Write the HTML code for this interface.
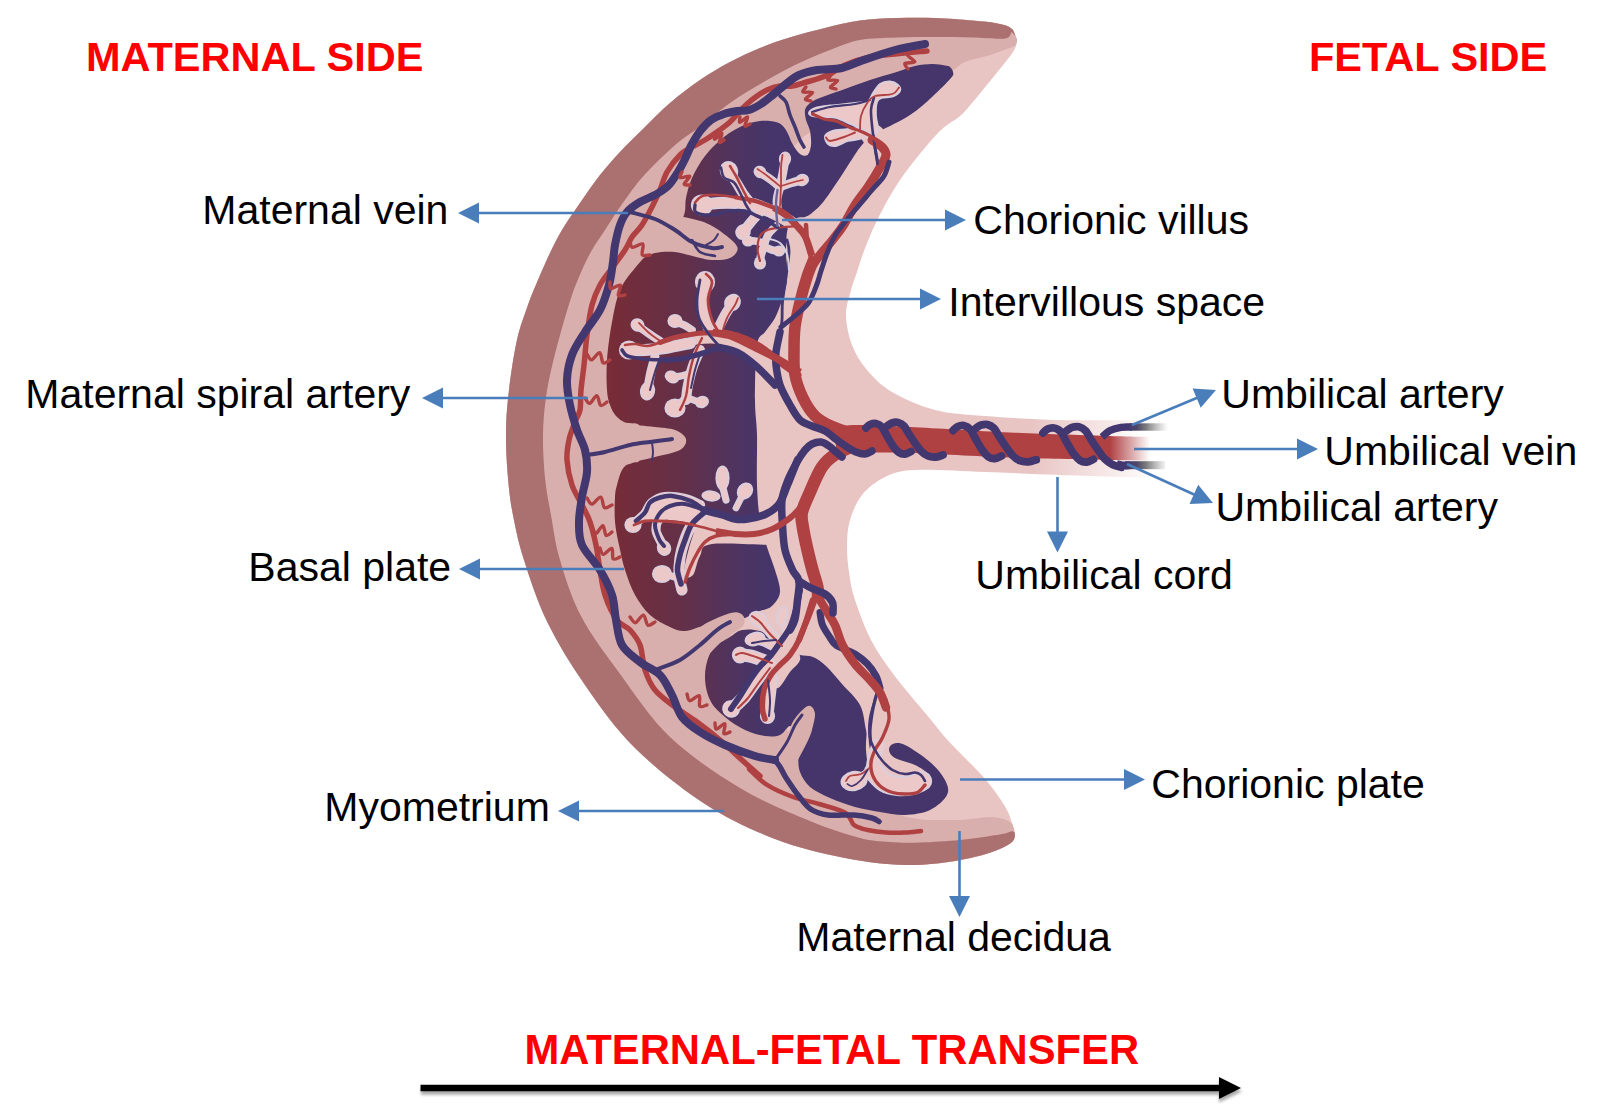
<!DOCTYPE html>
<html><head><meta charset="utf-8"><title>Placenta</title>
<style>
html,body{margin:0;padding:0;background:#fff;}
body{width:1600px;height:1118px;overflow:hidden;position:relative;font-family:"Liberation Sans",sans-serif;}
svg{position:absolute;left:0;top:0;}
text{font-family:"Liberation Sans",sans-serif;}
.lb{font-size:41px;fill:#000;}
.hd{font-size:41.5px;font-weight:bold;fill:#ff0000;}
</style></head><body>
<svg width="1600" height="1118" viewBox="0 0 1600 1118">
<defs>
<linearGradient id="gIV" gradientUnits="userSpaceOnUse" x1="612" y1="0" x2="772" y2="0">
<stop offset="0" stop-color="#772c37"/><stop offset="0.45" stop-color="#633049"/><stop offset="0.8" stop-color="#4d3462"/><stop offset="1" stop-color="#45356a"/>
</linearGradient>
<linearGradient id="gCord" gradientUnits="userSpaceOnUse" x1="1030" y1="0" x2="1156" y2="0">
<stop offset="0" stop-color="#fff" stop-opacity="0"/><stop offset="1" stop-color="#fff" stop-opacity="1"/>
</linearGradient>
<linearGradient id="gVein" gradientUnits="userSpaceOnUse" x1="1110" y1="0" x2="1150" y2="0">
<stop offset="0" stop-color="#fff" stop-opacity="0"/><stop offset="1" stop-color="#fff" stop-opacity="1"/>
</linearGradient>
<linearGradient id="gStub" gradientUnits="userSpaceOnUse" x1="1125" y1="0" x2="1168" y2="0">
<stop offset="0" stop-color="#43376f"/><stop offset="0.28" stop-color="#4f4868"/><stop offset="0.5" stop-color="#777" stop-opacity="0.95"/><stop offset="1" stop-color="#999" stop-opacity="0"/>
</linearGradient>
<filter id="sh" x="-5%" y="-200%" width="110%" height="500%"><feGaussianBlur stdDeviation="1.6"/></filter>
</defs>
<path d="M1017.0,42.0C1016.2,39.8 1015.2,32.1 1012.0,29.0C1008.8,25.9 1004.1,24.9 997.5,23.5C990.9,22.1 982.9,21.4 972.5,20.5C962.1,19.6 947.5,18.4 935.0,18.0C922.5,17.6 910.0,17.6 897.5,18.0C885.0,18.4 872.1,18.9 860.0,20.6C847.9,22.3 836.7,25.2 825.0,28.0C813.3,30.8 800.5,34.2 789.7,37.5C778.9,40.8 770.0,43.9 760.0,48.0C750.0,52.1 740.0,56.7 730.0,62.0C720.0,67.3 710.0,73.2 700.0,80.0C690.0,86.8 679.7,94.7 670.0,103.0C660.3,111.3 650.3,121.8 642.0,130.0C633.7,138.2 627.0,144.5 620.0,152.0C613.0,159.5 606.7,166.5 600.0,175.0C593.3,183.5 586.3,193.8 580.0,203.0C573.7,212.2 567.0,221.7 562.0,230.0C557.0,238.3 554.0,244.7 550.0,253.0C546.0,261.3 541.7,271.3 538.0,280.0C534.3,288.7 531.5,295.0 528.0,305.0C524.5,315.0 520.2,325.8 517.0,340.0C513.8,354.2 510.8,374.7 509.0,390.0C507.2,405.3 506.2,417.3 506.0,432.0C505.8,446.7 506.8,464.2 508.0,478.0C509.2,491.8 510.3,501.3 513.0,515.0C515.7,528.7 518.2,542.1 524.0,560.0C529.8,577.9 537.3,601.7 547.5,622.5C557.7,643.3 570.4,664.1 585.0,685.0C599.6,705.9 615.0,728.2 635.0,748.0C655.0,767.8 681.7,788.8 705.0,804.0C728.3,819.2 751.7,830.0 775.0,839.0C798.3,848.0 823.3,853.7 845.0,858.0C866.7,862.3 886.7,864.5 905.0,865.0C923.3,865.5 940.5,863.2 955.0,861.0C969.5,858.8 982.5,855.2 992.0,852.0C1001.5,848.8 1008.2,845.2 1012.0,842.0C1015.8,838.8 1014.5,834.5 1015.0,833.0C1013.8,829.5 1011.2,818.7 1008.0,812.0C1004.8,805.3 1000.2,799.0 996.0,793.0C991.8,787.0 987.5,781.7 982.5,776.0C977.5,770.3 971.8,765.0 966.0,759.0C960.2,753.0 953.7,746.9 947.5,740.0C941.3,733.1 935.2,725.0 929.0,717.5C922.8,710.0 916.3,702.8 910.0,695.0C903.7,687.2 897.5,680.2 891.0,671.0C884.5,661.8 877.0,651.8 871.0,640.0C865.0,628.2 858.7,611.3 855.0,600.0C851.3,588.7 850.3,581.2 849.0,572.0C847.7,562.8 846.8,553.7 847.0,545.0C847.2,536.3 847.5,528.3 850.0,520.0C852.5,511.7 856.2,502.2 862.0,495.0C867.8,487.8 876.2,481.2 885.0,477.0C893.8,472.8 898.3,470.8 915.0,470.0C931.7,469.2 960.8,471.2 985.0,472.0C1009.2,472.8 1032.5,474.0 1060.0,475.0C1087.5,476.0 1135.0,477.5 1150.0,478.0L1150,420C1135.0,420.0 1087.5,420.7 1060.0,420.0C1032.5,419.3 1005.8,417.7 985.0,416.0C964.2,414.3 950.5,414.0 935.0,410.0C919.5,406.0 903.3,398.7 892.0,392.0C880.7,385.3 873.7,377.8 867.0,370.0C860.3,362.2 855.5,354.2 852.0,345.0C848.5,335.8 846.2,324.2 846.0,315.0C845.8,305.8 849.2,297.2 851.0,290.0C852.8,282.8 855.1,277.8 857.0,272.0C858.9,266.2 859.9,262.0 862.5,255.0C865.1,248.0 868.8,238.3 872.5,230.0C876.2,221.7 880.4,213.3 885.0,205.0C889.6,196.7 894.3,188.3 900.0,180.0C905.7,171.7 912.2,163.3 919.0,155.0C925.8,146.7 934.2,136.5 941.0,130.0C947.8,123.5 954.8,120.6 960.0,116.0C965.2,111.4 966.7,109.3 972.5,102.5C978.3,95.7 988.2,83.4 995.0,75.0C1001.8,66.6 1009.3,57.5 1013.0,52.0C1016.7,46.5 1016.3,43.7 1017.0,42.0Z" fill="#e8c4c3"/>
<path d="M1017.0,42.0C1016.2,39.8 1015.2,32.1 1012.0,29.0C1008.8,25.9 1004.1,24.9 997.5,23.5C990.9,22.1 982.9,21.4 972.5,20.5C962.1,19.6 947.5,18.4 935.0,18.0C922.5,17.6 910.0,17.6 897.5,18.0C885.0,18.4 872.1,18.9 860.0,20.6C847.9,22.3 836.7,25.2 825.0,28.0C813.3,30.8 800.5,34.2 789.7,37.5C778.9,40.8 770.0,43.9 760.0,48.0C750.0,52.1 740.0,56.7 730.0,62.0C720.0,67.3 710.0,73.2 700.0,80.0C690.0,86.8 679.7,94.7 670.0,103.0C660.3,111.3 650.3,121.8 642.0,130.0C633.7,138.2 627.0,144.5 620.0,152.0C613.0,159.5 606.7,166.5 600.0,175.0C593.3,183.5 586.3,193.8 580.0,203.0C573.7,212.2 567.0,221.7 562.0,230.0C557.0,238.3 554.0,244.7 550.0,253.0C546.0,261.3 541.7,271.3 538.0,280.0C534.3,288.7 531.5,295.0 528.0,305.0C524.5,315.0 520.2,325.8 517.0,340.0C513.8,354.2 510.8,374.7 509.0,390.0C507.2,405.3 506.2,417.3 506.0,432.0C505.8,446.7 506.8,464.2 508.0,478.0C509.2,491.8 510.3,501.3 513.0,515.0C515.7,528.7 518.2,542.1 524.0,560.0C529.8,577.9 537.3,601.7 547.5,622.5C557.7,643.3 570.4,664.1 585.0,685.0C599.6,705.9 615.0,728.2 635.0,748.0C655.0,767.8 681.7,788.8 705.0,804.0C728.3,819.2 751.7,830.0 775.0,839.0C798.3,848.0 823.3,853.7 845.0,858.0C866.7,862.3 886.7,864.5 905.0,865.0C923.3,865.5 940.5,863.2 955.0,861.0C969.5,858.8 982.5,855.2 992.0,852.0C1001.5,848.8 1008.2,845.2 1012.0,842.0C1015.8,838.8 1014.5,834.5 1015.0,833.0C1014.2,831.2 1014.2,824.7 1010.0,822.0C1005.8,819.3 999.2,817.3 990.0,817.0C980.8,816.7 970.0,820.3 955.0,820.0C940.0,819.7 920.8,821.7 900.0,815.0C879.2,808.3 850.0,795.8 830.0,780.0C810.0,764.2 795.0,740.0 780.0,720.0C765.0,700.0 750.0,680.0 740.0,660.0C730.0,640.0 726.7,623.3 720.0,600.0C713.3,576.7 705.0,546.7 700.0,520.0C695.0,493.3 691.7,463.3 690.0,440.0C688.3,416.7 688.3,403.3 690.0,380.0C691.7,356.7 692.5,321.7 700.0,300.0C707.5,278.3 725.0,266.7 735.0,250.0C745.0,233.3 749.2,218.3 760.0,200.0C770.8,181.7 786.7,153.3 800.0,140.0C813.3,126.7 826.7,126.7 840.0,120.0C853.3,113.3 866.7,105.8 880.0,100.0C893.3,94.2 908.3,89.7 920.0,85.0C931.7,80.3 942.5,75.8 950.0,72.0C957.5,68.2 958.3,64.8 965.0,62.0C971.7,59.2 981.7,57.7 990.0,55.0C998.3,52.3 1010.8,47.5 1015.0,46.0Z" fill="#d9afad"/>
<path d="M1017.0,42.0C1016.2,39.8 1015.2,32.1 1012.0,29.0C1008.8,25.9 1004.1,24.9 997.5,23.5C990.9,22.1 982.9,21.4 972.5,20.5C962.1,19.6 947.5,18.4 935.0,18.0C922.5,17.6 910.0,17.6 897.5,18.0C885.0,18.4 872.1,18.9 860.0,20.6C847.9,22.3 836.7,25.2 825.0,28.0C813.3,30.8 800.5,34.2 789.7,37.5C778.9,40.8 770.0,43.9 760.0,48.0C750.0,52.1 740.0,56.7 730.0,62.0C720.0,67.3 710.0,73.2 700.0,80.0C690.0,86.8 679.7,94.7 670.0,103.0C660.3,111.3 650.3,121.8 642.0,130.0C633.7,138.2 627.0,144.5 620.0,152.0C613.0,159.5 606.7,166.5 600.0,175.0C593.3,183.5 586.3,193.8 580.0,203.0C573.7,212.2 567.0,221.7 562.0,230.0C557.0,238.3 554.0,244.7 550.0,253.0C546.0,261.3 541.7,271.3 538.0,280.0C534.3,288.7 531.5,295.0 528.0,305.0C524.5,315.0 520.2,325.8 517.0,340.0C513.8,354.2 510.8,374.7 509.0,390.0C507.2,405.3 506.2,417.3 506.0,432.0C505.8,446.7 506.8,464.2 508.0,478.0C509.2,491.8 510.3,501.3 513.0,515.0C515.7,528.7 518.2,542.1 524.0,560.0C529.8,577.9 537.3,601.7 547.5,622.5C557.7,643.3 570.4,664.1 585.0,685.0C599.6,705.9 615.0,728.2 635.0,748.0C655.0,767.8 681.7,788.8 705.0,804.0C728.3,819.2 751.7,830.0 775.0,839.0C798.3,848.0 823.3,853.7 845.0,858.0C866.7,862.3 886.7,864.5 905.0,865.0C923.3,865.5 940.5,863.2 955.0,861.0C969.5,858.8 982.5,855.2 992.0,852.0C1001.5,848.8 1008.2,845.2 1012.0,842.0C1015.8,838.8 1014.5,834.5 1015.0,833.0L1012,831C1010.8,831.4 1008.7,832.7 1005.0,833.5C1001.3,834.3 997.5,834.9 990.0,836.0C982.5,837.1 971.7,838.9 960.0,840.0C948.3,841.1 931.7,842.2 920.0,842.5C908.3,842.8 900.0,842.8 890.0,842.0C880.0,841.2 873.3,841.5 860.0,838.0C846.7,834.5 830.0,829.3 810.0,821.0C790.0,812.7 763.3,802.0 740.0,788.0C716.7,774.0 690.2,756.2 670.0,737.0C649.8,717.8 633.8,692.7 619.0,672.5C604.2,652.3 590.8,634.8 581.0,616.0C571.2,597.2 565.0,576.8 560.0,560.0C555.0,543.2 553.5,528.7 551.0,515.0C548.5,501.3 546.3,491.3 545.0,478.0C543.7,464.7 542.8,448.5 543.0,435.0C543.2,421.5 544.3,409.2 546.0,397.0C547.7,384.8 550.3,373.5 553.0,362.0C555.7,350.5 558.8,339.2 562.0,328.0C565.2,316.8 568.7,304.7 572.0,295.0C575.3,285.3 578.7,277.5 582.0,270.0C585.3,262.5 588.2,256.7 592.0,250.0C595.8,243.3 600.3,237.2 605.0,230.0C609.7,222.8 614.2,215.3 620.0,207.0C625.8,198.7 633.3,188.0 640.0,180.0C646.7,172.0 653.3,165.5 660.0,159.0C666.7,152.5 673.7,146.2 680.0,141.0C686.3,135.8 689.7,134.3 698.0,128.0C706.3,121.7 719.3,110.5 730.0,103.0C740.7,95.5 751.2,89.3 762.0,83.0C772.8,76.7 783.7,70.5 795.0,65.0C806.3,59.5 819.2,54.2 830.0,50.0C840.8,45.8 848.8,42.1 860.0,40.0C871.2,37.9 885.0,38.0 897.5,37.5C910.0,37.0 922.5,37.0 935.0,37.0C947.5,37.0 960.8,37.2 972.5,37.5C984.2,37.8 998.5,39.4 1005.0,38.5C1011.5,37.6 1010.4,33.1 1011.5,32.0Q1017,36 1017,42Z" fill="#ab7170"/>
<path d="M953.0,72.0C952.8,70.2 951.3,68.1 950.0,67.0C948.7,65.9 948.0,66.0 945.0,65.5C942.0,65.0 937.0,63.9 932.0,64.0C927.0,64.1 921.2,64.6 915.0,66.0C908.8,67.4 902.5,70.2 895.0,72.5C887.5,74.8 878.3,77.2 870.0,80.0C861.7,82.8 852.5,86.3 845.0,89.0C837.5,91.7 830.0,94.2 825.0,96.0C820.0,97.8 817.7,98.7 815.0,100.0C812.3,101.3 810.7,102.3 809.0,104.0C807.3,105.7 805.5,107.3 805.0,110.0C804.5,112.7 805.2,116.5 806.0,120.0C806.8,123.5 809.2,126.8 810.0,131.0C810.8,135.2 811.4,141.0 811.0,145.0C810.6,149.0 809.3,153.5 807.5,155.0C805.7,156.5 802.5,155.8 800.0,154.0C797.5,152.2 794.8,148.0 792.5,144.0C790.2,140.0 788.5,133.6 786.0,130.0C783.5,126.4 781.8,124.0 777.5,122.5C773.2,121.0 765.9,120.4 760.0,121.0C754.1,121.6 748.0,123.3 742.0,126.0C736.0,128.7 730.2,132.0 724.0,137.0C717.8,142.0 710.3,149.2 705.0,156.0C699.7,162.8 695.2,171.0 692.0,178.0C688.8,185.0 687.3,191.8 686.0,198.0C684.7,204.2 686.3,208.8 684.0,215.0C681.7,221.2 677.7,228.8 672.0,235.0C666.3,241.2 656.2,246.5 650.0,252.0C643.8,257.5 640.0,261.7 635.0,268.0C630.0,274.3 623.8,281.0 620.0,290.0C616.2,299.0 614.2,310.3 612.0,322.0C609.8,333.7 607.8,348.7 607.0,360.0C606.2,371.3 606.5,382.5 607.0,390.0C607.5,397.5 608.5,400.7 610.0,405.0C611.5,409.3 613.3,413.0 616.0,416.0C618.7,419.0 622.0,421.2 626.0,423.0C630.0,424.8 637.7,420.5 640.0,426.5C642.3,432.5 641.7,453.0 640.0,459.0C638.3,465.0 633.0,460.7 630.0,462.5C627.0,464.3 624.2,466.2 622.0,470.0C619.8,473.8 618.2,480.5 617.0,485.0C615.8,489.5 615.3,490.8 615.0,497.0C614.7,503.2 614.3,514.0 615.0,522.0C615.7,530.0 617.3,537.0 619.0,545.0C620.7,553.0 622.3,561.7 625.0,570.0C627.7,578.3 630.8,587.5 635.0,595.0C639.2,602.5 644.2,609.7 650.0,615.0C655.8,620.3 664.2,624.3 670.0,627.0C675.8,629.7 679.2,631.3 685.0,631.0C690.8,630.7 699.2,626.8 705.0,625.0C710.8,623.2 715.5,621.8 720.0,620.0C724.5,618.2 728.0,614.3 732.0,614.0C736.0,613.7 740.7,618.0 744.0,618.0C747.3,618.0 749.3,615.2 752.0,614.0C754.7,612.8 756.7,612.3 760.0,611.0C763.3,609.7 768.7,609.2 772.0,606.0C775.3,602.8 779.5,598.0 780.0,592.0C780.5,586.0 777.2,577.5 775.0,570.0C772.8,562.5 769.5,555.3 767.0,547.0C764.5,538.7 761.7,530.3 760.0,520.0C758.3,509.7 757.5,499.2 757.0,485.0C756.5,470.8 757.3,449.2 757.0,435.0C756.7,420.8 755.0,415.0 755.0,400.0C755.0,385.0 755.3,356.3 757.0,345.0C758.7,333.7 762.0,336.5 765.0,332.0C768.0,327.5 772.2,323.3 775.0,318.0C777.8,312.7 780.0,306.3 782.0,300.0C784.0,293.7 786.3,288.3 787.0,280.0C787.7,271.7 785.8,258.7 786.0,250.0C786.2,241.3 786.2,233.3 788.0,228.0C789.8,222.7 794.2,219.8 797.0,218.0C799.8,216.2 802.4,217.9 805.0,217.0C807.6,216.1 809.3,215.2 812.5,212.5C815.7,209.8 819.0,207.4 824.0,201.0C829.0,194.6 837.2,182.0 842.5,174.0C847.8,166.0 852.8,157.8 856.0,153.0C859.2,148.2 859.7,147.8 862.0,145.0C864.3,142.2 867.0,138.3 870.0,136.0C873.0,133.7 873.3,134.5 880.0,131.0C886.7,127.5 901.3,120.7 910.0,115.0C918.7,109.3 925.2,103.2 932.0,97.0C938.8,90.8 947.5,82.2 951.0,78.0C954.5,73.8 953.2,73.8 953.0,72.0Z" fill="url(#gIV)"/>
<path d="M742.0,630.0C737.0,631.0 735.0,633.7 730.0,637.0C725.0,640.3 716.2,643.7 712.0,650.0C707.8,656.3 705.3,666.7 705.0,675.0C704.7,683.3 706.7,693.0 710.0,700.0C713.3,707.0 719.2,712.0 725.0,717.0C730.8,722.0 738.3,726.8 745.0,730.0C751.7,733.2 759.2,735.2 765.0,736.0C770.8,736.8 775.8,736.7 780.0,735.0C784.2,733.3 787.2,726.0 790.0,726.0C792.8,726.0 795.7,730.2 797.0,735.0C798.3,739.8 797.5,748.8 798.0,755.0C798.5,761.2 798.0,766.7 800.0,772.0C802.0,777.3 805.0,782.7 810.0,787.0C815.0,791.3 822.5,794.7 830.0,798.0C837.5,801.3 846.7,804.7 855.0,807.0C863.3,809.3 871.7,810.7 880.0,812.0C888.3,813.3 896.7,815.3 905.0,815.0C913.3,814.7 923.0,813.3 930.0,810.0C937.0,806.7 944.5,800.0 947.0,795.0C949.5,790.0 947.8,785.5 945.0,780.0C942.2,774.5 936.7,767.8 930.0,762.0C923.3,756.2 911.2,748.0 905.0,745.0C898.8,742.0 895.7,743.2 893.0,744.0C890.3,744.8 888.7,747.7 889.0,750.0C889.3,752.3 890.7,755.5 895.0,758.0C899.3,760.5 909.5,762.2 915.0,765.0C920.5,767.8 926.3,770.8 928.0,775.0C929.7,779.2 929.7,787.0 925.0,790.0C920.3,793.0 907.5,793.0 900.0,793.0C892.5,793.0 884.7,793.0 880.0,790.0C875.3,787.0 873.7,781.7 872.0,775.0C870.3,768.3 871.0,757.5 870.0,750.0C869.0,742.5 867.7,737.5 866.0,730.0C864.3,722.5 864.0,712.7 860.0,705.0C856.0,697.3 847.7,690.5 842.0,684.0C836.3,677.5 830.8,670.5 826.0,666.0C821.2,661.5 817.3,658.8 813.0,657.0C808.7,655.2 804.2,656.3 800.0,655.0C795.8,653.7 792.2,651.5 788.0,649.0C783.8,646.5 779.7,643.0 775.0,640.0C770.3,637.0 765.5,632.7 760.0,631.0C754.5,629.3 747.0,629.0 742.0,630.0Z" fill="url(#gIV)"/>
<path d="M640.0,205.0C651.7,199.3 669.2,213.1 680.0,216.0C690.8,218.9 697.7,219.5 705.0,222.5C712.3,225.5 718.6,229.8 724.0,234.0C729.4,238.2 736.5,243.5 737.5,247.5C738.5,251.5 734.4,255.9 730.0,258.0C725.6,260.1 717.2,260.3 711.0,260.0C704.8,259.7 698.5,257.3 692.5,256.0C686.5,254.7 681.2,252.5 675.0,252.0C668.8,251.5 662.5,251.3 655.0,253.0C647.5,254.7 637.5,262.5 630.0,262.0C622.5,261.5 608.3,259.5 610.0,250.0C611.7,240.5 628.3,210.7 640.0,205.0Z" fill="#d9afad"/>
<path d="M622.0,424.0C625.7,420.9 634.5,425.0 640.0,425.5C645.5,426.0 649.2,426.2 655.0,427.0C660.8,427.8 669.8,428.0 675.0,430.0C680.2,432.0 685.2,435.7 686.0,439.0C686.8,442.3 685.2,447.0 680.0,450.0C674.8,453.0 661.7,455.2 655.0,457.0C648.3,458.8 645.5,459.3 640.0,460.5C634.5,461.7 625.7,466.8 622.0,464.0C618.3,461.2 618.0,450.7 618.0,444.0C618.0,437.3 618.3,427.1 622.0,424.0Z" fill="#d9afad"/>
<path d="M768.0,756.0C766.3,751.0 777.0,747.8 780.0,745.0C783.0,742.2 783.8,742.9 786.0,739.0C788.2,735.1 790.1,726.6 793.0,721.6C795.9,716.6 800.6,711.6 803.5,709.0C806.4,706.4 808.6,705.2 810.5,706.0C812.4,706.8 814.8,710.0 815.0,714.0C815.2,718.0 813.3,725.2 812.0,730.0C810.7,734.8 809.3,737.6 807.0,742.6C804.7,747.6 800.8,754.6 798.0,760.0C795.2,765.4 795.0,775.7 790.0,775.0C785.0,774.3 769.7,761.0 768.0,756.0Z" fill="#d9afad"/>
<path d="M690.0,640.0C693.7,634.3 697.8,629.5 702.0,626.0C706.2,622.5 710.8,621.0 715.0,619.0C719.2,617.0 723.8,615.1 727.5,614.0C731.2,612.9 734.8,612.0 737.5,612.5C740.2,613.0 743.1,614.8 744.0,617.0C744.9,619.2 745.0,623.2 743.0,626.0C741.0,628.8 735.8,631.2 732.0,634.0C728.2,636.8 724.0,639.5 720.0,643.0C716.0,646.5 712.0,651.8 708.0,655.0C704.0,658.2 700.7,661.2 696.0,662.0C691.3,662.8 681.0,663.7 680.0,660.0C679.0,656.3 686.3,645.7 690.0,640.0Z" fill="#d9afad"/>
<path d="M856.0,128.0C856.3,124.0 863.7,122.0 868.0,122.0C872.3,122.0 878.7,124.7 882.0,128.0C885.3,131.3 887.3,136.7 888.0,142.0C888.7,147.3 888.3,157.0 886.0,160.0C883.7,163.0 877.3,162.3 874.0,160.0C870.7,157.7 869.0,151.3 866.0,146.0C863.0,140.7 855.7,132.0 856.0,128.0Z" fill="#e8c4c3"/>
<path d="M752.0,204.0C755.0,205.2 763.7,208.0 770.0,211.0C776.3,214.0 784.0,217.5 790.0,222.0C796.0,226.5 803.3,235.3 806.0,238.0" fill="none" stroke="#e8c4c3" stroke-width="13.0" stroke-linecap="butt" stroke-linejoin="round"/>
<path d="M690.0,340.0C693.7,339.7 704.5,337.5 712.0,338.0C719.5,338.5 727.7,340.0 735.0,343.0C742.3,346.0 749.2,351.2 756.0,356.0C762.8,360.8 772.7,369.3 776.0,372.0" fill="none" stroke="#e8c4c3" stroke-width="11.0" stroke-linecap="butt" stroke-linejoin="round"/>
<path d="M700.0,512.0C705.2,509.3 716.7,514.7 725.0,516.0C733.3,517.3 742.5,520.3 750.0,520.0C757.5,519.7 764.3,517.3 770.0,514.0C775.7,510.7 780.3,501.5 784.0,500.0C787.7,498.5 791.0,500.0 792.0,505.0C793.0,510.0 792.0,523.5 790.0,530.0C788.0,536.5 793.0,541.7 780.0,544.0C767.0,546.3 725.3,542.0 712.0,544.0C698.7,546.0 703.2,550.8 700.0,556.0C696.8,561.2 695.7,571.8 693.0,575.0C690.3,578.2 684.8,578.8 684.0,575.0C683.2,571.2 686.3,559.2 688.0,552.0C689.7,544.8 692.0,538.7 694.0,532.0C696.0,525.3 694.8,514.7 700.0,512.0Z" fill="#e8c4c3"/>
<path d="M800.0,592.0C803.0,590.0 811.0,592.5 812.0,598.0C813.0,603.5 808.3,617.2 806.0,625.0C803.7,632.8 799.0,639.2 798.0,645.0C797.0,650.8 801.3,655.5 800.0,660.0C798.7,664.5 793.7,667.3 790.0,672.0C786.3,676.7 781.7,686.7 778.0,688.0C774.3,689.3 771.0,683.3 768.0,680.0C765.0,676.7 759.3,672.7 760.0,668.0C760.7,663.3 767.7,658.0 772.0,652.0C776.3,646.0 782.3,639.0 786.0,632.0C789.7,625.0 791.7,616.7 794.0,610.0C796.3,603.3 797.0,594.0 800.0,592.0Z" fill="#e8c4c3"/>
<path d="M866.0,700.0C869.8,696.7 885.7,700.0 890.0,705.0C894.3,710.0 893.0,722.5 892.0,730.0C891.0,737.5 886.0,743.3 884.0,750.0C882.0,756.7 882.3,766.7 880.0,770.0C877.7,773.3 872.3,773.3 870.0,770.0C867.7,766.7 866.5,757.5 866.0,750.0C865.5,742.5 867.0,733.3 867.0,725.0C867.0,716.7 862.2,703.3 866.0,700.0Z" fill="#e8c4c3"/>
<path d="M927.0,51.0C921.7,51.5 904.5,53.0 895.0,54.0C885.5,55.0 878.3,55.2 870.0,57.0C861.7,58.8 851.7,62.2 845.0,65.0C838.3,67.8 834.7,71.7 830.0,74.0C825.3,76.3 821.2,77.6 817.0,79.0C812.8,80.4 809.2,81.3 805.0,82.5C800.8,83.7 796.2,85.4 792.0,86.0C787.8,86.6 784.2,85.3 780.0,86.0C775.8,86.7 770.8,88.3 767.0,90.0C763.2,91.7 760.3,93.7 757.0,96.0C753.7,98.3 750.0,101.3 747.0,104.0C744.0,106.7 741.8,109.0 739.0,112.0C736.2,115.0 733.7,118.7 730.0,122.0C726.3,125.3 721.2,129.0 717.0,132.0C712.8,135.0 709.2,137.5 705.0,140.0C700.8,142.5 696.2,144.5 692.0,147.0C687.8,149.5 684.2,150.8 680.0,155.0C675.8,159.2 670.3,166.2 667.0,172.0C663.7,177.8 662.5,184.2 660.0,190.0C657.5,195.8 655.0,201.2 652.0,207.0C649.0,212.8 645.3,220.0 642.0,225.0C638.7,230.0 634.8,232.8 632.0,237.0C629.2,241.2 628.3,244.8 625.0,250.0C621.7,255.2 616.2,262.2 612.0,268.0C607.8,273.8 603.3,278.8 600.0,285.0C596.7,291.2 594.2,296.7 592.0,305.0C589.8,313.3 588.3,325.0 587.0,335.0C585.7,345.0 585.0,355.8 584.0,365.0C583.0,374.2 581.7,382.5 581.0,390.0C580.3,397.5 581.0,404.7 580.0,410.0C579.0,415.3 576.8,417.0 575.0,422.0C573.2,427.0 570.3,433.7 569.0,440.0C567.7,446.3 566.5,452.5 567.0,460.0C567.5,467.5 569.5,477.5 572.0,485.0C574.5,492.5 579.0,498.8 582.0,505.0C585.0,511.2 587.7,515.3 590.0,522.0C592.3,528.7 594.3,537.0 596.0,545.0C597.7,553.0 598.5,561.7 600.0,570.0C601.5,578.3 602.2,586.7 605.0,595.0C607.8,603.3 612.8,614.2 617.0,620.0C621.2,625.8 626.2,625.8 630.0,630.0C633.8,634.2 637.5,638.3 640.0,645.0C642.5,651.7 642.5,662.5 645.0,670.0C647.5,677.5 650.0,683.8 655.0,690.0C660.0,696.2 668.0,701.7 675.0,707.0C682.0,712.3 689.5,716.5 697.0,722.0C704.5,727.5 712.5,733.7 720.0,740.0C727.5,746.3 735.3,754.0 742.0,760.0C748.7,766.0 757.0,773.3 760.0,776.0" fill="none" stroke="#b04143" stroke-width="5.5" stroke-linecap="round" stroke-linejoin="round"/>
<path d="M749.0,769.0C752.0,771.6 759.4,780.0 766.7,784.7C774.0,789.4 784.3,793.8 793.0,797.0C801.7,800.2 810.2,801.3 819.0,804.0C827.8,806.7 839.8,809.5 845.6,813.0C851.4,816.5 850.4,822.2 854.0,825.0C857.6,827.8 862.2,828.8 867.5,830.0C872.8,831.2 879.8,832.1 886.0,832.5C892.2,832.9 899.2,832.8 905.0,832.5C910.8,832.2 918.3,831.2 921.0,831.0" fill="none" stroke="#b04143" stroke-width="4.5" stroke-linecap="round" stroke-linejoin="round"/>
<path d="M925.0,44.0C920.0,45.0 905.7,47.2 895.0,50.0C884.3,52.8 869.8,58.0 861.0,61.0C852.2,64.0 849.3,66.5 842.0,68.0C834.7,69.5 824.2,68.8 817.0,70.0C809.8,71.2 804.2,72.7 799.0,75.0C793.8,77.3 790.2,80.8 786.0,84.0C781.8,87.2 778.2,90.7 774.0,94.0C769.8,97.3 765.2,101.3 761.0,104.0C756.8,106.7 753.0,108.8 749.0,110.0C745.0,111.2 741.2,110.3 737.0,111.0C732.8,111.7 728.3,112.5 724.0,114.0C719.7,115.5 714.8,117.3 711.0,120.0C707.2,122.7 704.2,126.0 701.0,130.0C697.8,134.0 694.7,139.2 692.0,144.0C689.3,148.8 687.3,154.3 685.0,159.0C682.7,163.7 680.8,167.5 678.0,172.0C675.2,176.5 671.8,182.2 668.0,186.0C664.2,189.8 659.7,192.3 655.0,195.0C650.3,197.7 644.7,199.2 640.0,202.0C635.3,204.8 630.3,208.2 627.0,212.0C623.7,215.8 622.0,219.5 620.0,225.0C618.0,230.5 616.2,238.8 615.0,245.0C613.8,251.2 614.0,255.3 613.0,262.0C612.0,268.7 611.2,277.0 609.0,285.0C606.8,293.0 604.0,302.2 600.0,310.0C596.0,317.8 589.7,324.5 585.0,332.0C580.3,339.5 575.0,347.0 572.0,355.0C569.0,363.0 567.3,371.7 567.0,380.0C566.7,388.3 568.3,396.7 570.0,405.0C571.7,413.3 574.5,422.5 577.0,430.0C579.5,437.5 583.3,443.0 585.0,450.0C586.7,457.0 587.5,464.2 587.0,472.0C586.5,479.8 583.3,488.7 582.0,497.0C580.7,505.3 579.0,514.0 579.0,522.0C579.0,530.0 578.5,537.0 582.0,545.0C585.5,553.0 595.0,561.7 600.0,570.0C605.0,578.3 609.3,586.7 612.0,595.0C614.7,603.3 614.3,611.7 616.0,620.0C617.7,628.3 618.0,638.0 622.0,645.0C626.0,652.0 633.7,657.0 640.0,662.0C646.3,667.0 654.7,669.5 660.0,675.0C665.3,680.5 668.3,688.0 672.0,695.0C675.7,702.0 677.3,710.8 682.0,717.0C686.7,723.2 692.8,727.3 700.0,732.0C707.2,736.7 715.8,741.0 725.0,745.0C734.2,749.0 746.7,753.5 755.0,756.0C763.3,758.5 771.7,759.3 775.0,760.0" fill="none" stroke="#43376f" stroke-width="8.0" stroke-linecap="round" stroke-linejoin="round"/>
<path d="M755.0,756.0C758.3,756.8 769.8,757.4 775.0,761.0C780.2,764.6 782.2,772.0 786.0,777.7C789.8,783.4 793.9,789.8 798.0,795.0C802.1,800.2 805.5,805.7 810.5,809.0C815.5,812.3 820.8,814.0 828.0,815.0C835.2,816.0 846.7,814.5 854.0,815.0C861.3,815.5 867.8,816.9 872.0,818.0C876.2,819.1 877.8,821.0 879.0,821.6" fill="none" stroke="#43376f" stroke-width="5.5" stroke-linecap="round" stroke-linejoin="round"/>
<path d="M780.0,96.0C781.0,97.0 784.3,98.8 786.0,102.0C787.7,105.2 788.5,110.8 790.0,115.0C791.5,119.2 793.3,122.8 795.0,127.0C796.7,131.2 798.5,136.7 800.0,140.0C801.5,143.3 803.3,145.8 804.0,147.0" fill="none" stroke="#43376f" stroke-width="3.6" stroke-linecap="round" stroke-linejoin="round"/>
<path d="M630.0,212.0C634.2,213.2 647.5,216.0 655.0,219.0C662.5,222.0 668.8,226.2 675.0,230.0C681.2,233.8 685.8,239.0 692.0,242.0C698.2,245.0 707.0,247.2 712.0,248.0C717.0,248.8 720.3,247.2 722.0,247.0" fill="none" stroke="#43376f" stroke-width="4.0" stroke-linecap="round" stroke-linejoin="round"/>
<path d="M692.0,240.0C693.3,242.0 696.2,249.3 700.0,252.0C703.8,254.7 712.5,255.3 715.0,256.0" fill="none" stroke="#43376f" stroke-width="2.6" stroke-linecap="round" stroke-linejoin="round"/>
<path d="M706.0,245.0C707.3,244.2 712.0,241.8 714.0,240.0C716.0,238.2 717.3,235.0 718.0,234.0" fill="none" stroke="#43376f" stroke-width="2.0" stroke-linecap="round" stroke-linejoin="round"/>
<path d="M587.0,455.0C590.0,454.5 597.8,453.7 605.0,452.0C612.2,450.3 622.5,446.7 630.0,445.0C637.5,443.3 644.2,442.8 650.0,442.0C655.8,441.2 661.3,440.5 665.0,440.0C668.7,439.5 670.8,439.2 672.0,439.0" fill="none" stroke="#43376f" stroke-width="4.0" stroke-linecap="round" stroke-linejoin="round"/>
<path d="M652.0,443.0C652.2,444.5 653.0,449.2 653.0,452.0C653.0,454.8 652.2,458.7 652.0,460.0" fill="none" stroke="#43376f" stroke-width="2.0" stroke-linecap="round" stroke-linejoin="round"/>
<path d="M655.0,670.0C659.2,668.3 672.5,664.2 680.0,660.0C687.5,655.8 693.8,650.0 700.0,645.0C706.2,640.0 712.0,633.8 717.0,630.0C722.0,626.2 727.8,623.3 730.0,622.0" fill="none" stroke="#43376f" stroke-width="4.0" stroke-linecap="round" stroke-linejoin="round"/>
<path d="M775.0,760.0C777.0,757.0 783.7,747.8 787.0,742.0C790.3,736.2 792.5,729.5 795.0,725.0C797.5,720.5 800.8,716.7 802.0,715.0" fill="none" stroke="#43376f" stroke-width="3.0" stroke-linecap="round" stroke-linejoin="round"/>
<path d="M831.0,75.0C830.5,75.8 826.9,79.1 828.0,80.0C829.1,80.9 837.3,79.3 837.7,80.5C838.2,81.7 830.8,85.6 830.5,87.0C830.2,88.4 835.1,88.7 836.0,89.0" fill="none" stroke="#b04143" stroke-width="3.4" stroke-linecap="round" stroke-linejoin="round"/>
<path d="M806.0,87.0C805.5,87.8 801.9,91.1 803.0,92.0C804.1,92.9 812.3,91.3 812.7,92.5C813.2,93.7 805.8,97.6 805.5,99.0C805.2,100.4 810.1,100.7 811.0,101.0" fill="none" stroke="#b04143" stroke-width="3.4" stroke-linecap="round" stroke-linejoin="round"/>
<path d="M740.0,117.0C740.0,117.9 738.7,122.5 739.9,122.4C741.2,122.4 746.7,116.2 747.6,116.8C748.4,117.4 744.5,124.7 744.9,125.9C745.3,127.1 749.2,124.3 750.0,124.0" fill="none" stroke="#b04143" stroke-width="3.4" stroke-linecap="round" stroke-linejoin="round"/>
<path d="M715.0,134.0C715.0,134.9 713.6,139.4 714.8,139.2C715.9,139.1 721.2,132.8 722.0,133.3C722.7,133.8 718.9,141.1 719.3,142.2C719.6,143.4 723.2,140.4 724.0,140.0" fill="none" stroke="#b04143" stroke-width="3.4" stroke-linecap="round" stroke-linejoin="round"/>
<path d="M682.0,172.0C681.7,172.9 678.9,176.9 680.2,177.6C681.5,178.3 689.2,175.1 689.8,176.1C690.5,177.2 684.1,182.6 684.2,184.1C684.2,185.6 689.0,184.9 690.0,185.0" fill="none" stroke="#b04143" stroke-width="3.4" stroke-linecap="round" stroke-linejoin="round"/>
<path d="M630.0,240.0C630.4,241.2 630.2,246.7 632.3,247.3C634.4,248.0 641.0,242.7 642.7,243.9C644.4,245.2 641.1,253.0 642.3,254.8C643.5,256.7 648.7,255.0 650.0,255.0" fill="none" stroke="#b04143" stroke-width="3.4" stroke-linecap="round" stroke-linejoin="round"/>
<path d="M610.0,282.0C610.1,283.1 609.1,288.1 610.8,288.7C612.5,289.2 619.2,284.0 620.4,285.1C621.7,286.2 617.5,293.5 618.3,295.2C619.1,296.8 623.9,295.0 625.0,295.0" fill="none" stroke="#b04143" stroke-width="3.4" stroke-linecap="round" stroke-linejoin="round"/>
<path d="M587.0,354.0C587.8,355.0 589.5,360.1 591.6,359.9C593.7,359.6 597.7,352.1 599.6,352.6C601.6,353.1 601.4,361.6 603.1,362.9C604.8,364.1 608.9,360.5 610.0,360.0" fill="none" stroke="#b04143" stroke-width="3.4" stroke-linecap="round" stroke-linejoin="round"/>
<path d="M585.0,398.0C585.8,398.9 587.7,403.8 589.7,403.4C591.7,403.0 595.0,395.2 596.8,395.6C598.6,395.9 599.0,404.4 600.7,405.4C602.4,406.5 605.9,402.6 607.0,402.0" fill="none" stroke="#b04143" stroke-width="3.4" stroke-linecap="round" stroke-linejoin="round"/>
<path d="M587.0,498.0C587.8,499.0 589.8,504.2 592.0,504.1C594.3,503.9 598.6,496.6 600.7,497.2C602.8,497.7 602.7,506.3 604.5,507.6C606.4,508.9 610.8,505.4 612.0,505.0" fill="none" stroke="#b04143" stroke-width="3.4" stroke-linecap="round" stroke-linejoin="round"/>
<path d="M592.0,528.0C592.7,528.9 594.3,533.8 596.1,533.4C597.9,533.0 601.2,525.3 602.9,525.6C604.5,525.9 604.6,534.3 606.1,535.4C607.6,536.5 611.0,532.6 612.0,532.0" fill="none" stroke="#b04143" stroke-width="3.4" stroke-linecap="round" stroke-linejoin="round"/>
<path d="M600.0,548.0C600.5,549.1 601.2,554.3 603.2,554.4C605.1,554.4 610.2,547.6 611.8,548.4C613.5,549.1 611.8,557.4 613.2,558.9C614.5,560.3 618.9,557.3 620.0,557.0" fill="none" stroke="#b04143" stroke-width="3.4" stroke-linecap="round" stroke-linejoin="round"/>
<path d="M630.0,617.0C630.9,617.9 633.1,623.0 635.4,622.7C637.6,622.3 641.3,614.7 643.4,615.1C645.5,615.5 645.9,624.0 647.9,625.2C649.8,626.3 653.8,622.5 655.0,622.0" fill="none" stroke="#b04143" stroke-width="3.4" stroke-linecap="round" stroke-linejoin="round"/>
<path d="M687.0,694.0C687.5,695.1 687.8,700.4 689.8,700.7C691.9,701.0 697.5,694.6 699.2,695.6C700.8,696.5 698.5,704.6 699.8,706.2C701.1,707.8 705.8,705.2 707.0,705.0" fill="none" stroke="#b04143" stroke-width="3.4" stroke-linecap="round" stroke-linejoin="round"/>
<path d="M715.0,723.0C715.2,724.0 714.8,729.0 716.4,729.1C718.1,729.2 723.6,722.9 724.8,723.6C726.1,724.4 723.1,732.2 723.9,733.6C724.8,735.0 729.0,732.3 730.0,732.0" fill="none" stroke="#b04143" stroke-width="3.4" stroke-linecap="round" stroke-linejoin="round"/>
<path d="M913.0,52.0C912.1,52.5 907.1,53.4 907.4,55.0C907.7,56.6 915.2,60.4 914.8,61.8C914.4,63.2 906.1,62.3 904.9,63.5C903.8,64.7 907.5,68.1 908.0,69.0" fill="none" stroke="#b04143" stroke-width="3.4" stroke-linecap="round" stroke-linejoin="round"/>
<path d="M878.0,164.0C877.5,161.2 875.9,153.2 875.0,147.5C874.1,141.8 873.2,136.2 872.5,130.0C871.8,123.8 870.8,115.4 871.0,110.0C871.2,104.6 873.5,99.6 874.0,97.5" fill="none" stroke="#43376f" stroke-width="3.0" stroke-linecap="round" stroke-linejoin="round"/>
<path d="M820.0,612.5C820.4,614.6 820.8,620.8 822.5,625.0C824.2,629.2 827.8,634.2 830.0,637.5C832.2,640.8 831.8,642.2 836.0,645.0C840.2,647.8 849.8,650.8 855.0,654.0C860.2,657.2 864.0,660.3 867.5,664.0C871.0,667.7 873.9,672.0 876.0,676.0C878.1,680.0 879.3,686.0 880.0,688.0" fill="none" stroke="#43376f" stroke-width="7.0" stroke-linecap="round" stroke-linejoin="round"/>
<path d="M878.0,690.0C877.5,691.7 876.0,696.0 875.0,700.0C874.0,704.0 872.8,708.7 872.0,714.0C871.2,719.3 870.0,725.8 870.0,732.0C870.0,738.2 870.8,746.3 872.0,751.0C873.2,755.7 876.2,758.5 877.0,760.0" fill="none" stroke="#43376f" stroke-width="3.2" stroke-linecap="round" stroke-linejoin="round"/>
<path d="M858.0,436.0C853.5,434.3 838.2,429.3 831.0,426.0C823.8,422.7 819.7,420.7 815.0,416.0C810.3,411.3 806.3,404.8 803.0,398.0C799.7,391.2 796.5,382.7 795.0,375.0C793.5,367.3 794.0,360.0 794.0,352.0C794.0,344.0 794.0,335.3 795.0,327.0C796.0,318.7 798.0,310.3 800.0,302.0C802.0,293.7 804.7,284.2 807.0,277.0C809.3,269.8 812.8,262.0 814.0,259.0" fill="none" stroke="#b04143" stroke-width="11.5" stroke-linecap="butt" stroke-linejoin="round"/>
<path d="M812.0,266.0C813.3,264.2 816.6,259.3 820.0,255.0C823.4,250.7 828.7,244.8 832.5,240.0C836.3,235.2 839.2,231.8 843.0,226.0C846.8,220.2 850.8,211.5 855.0,205.0C859.2,198.5 863.8,193.2 868.0,187.0C872.2,180.8 877.0,172.8 880.0,167.5C883.0,162.2 885.7,158.4 886.0,155.0C886.3,151.6 884.3,149.5 882.0,147.0C879.7,144.5 873.7,141.2 872.0,140.0" fill="none" stroke="#b04143" stroke-width="9.0" stroke-linecap="round" stroke-linejoin="round"/>
<path d="M813.0,262.0C812.3,260.0 810.0,253.7 809.0,250.0C808.0,246.3 807.5,244.2 807.0,240.0C806.5,235.8 806.2,227.5 806.0,225.0" fill="none" stroke="#b04143" stroke-width="4.5" stroke-linecap="round" stroke-linejoin="round"/>
<path d="M798.0,375.0C795.7,373.3 789.5,369.2 784.0,365.0C778.5,360.8 770.3,353.8 765.0,350.0C759.7,346.2 756.2,344.2 752.0,342.0C747.8,339.8 744.5,338.5 740.0,337.0C735.5,335.5 727.5,333.7 725.0,333.0" fill="none" stroke="#b04143" stroke-width="7.0" stroke-linecap="round" stroke-linejoin="round"/>
<path d="M858.0,444.0C854.3,445.7 842.0,450.2 836.0,454.0C830.0,457.8 826.3,460.7 822.0,467.0C817.7,473.3 813.3,484.5 810.0,492.0C806.7,499.5 803.2,506.5 802.0,512.0C800.8,517.5 801.6,518.7 802.5,525.0C803.4,531.3 805.8,542.5 807.5,550.0C809.2,557.5 810.8,563.8 812.5,570.0C814.2,576.2 816.6,582.5 817.5,587.5C818.4,592.5 817.9,597.9 818.0,600.0" fill="none" stroke="#b04143" stroke-width="12.5" stroke-linecap="butt" stroke-linejoin="round"/>
<path d="M817.5,596.0C819.2,598.8 824.6,607.7 827.5,612.5C830.4,617.3 832.5,619.6 835.0,625.0C837.5,630.4 839.2,638.5 842.5,645.0C845.8,651.5 850.4,658.2 855.0,664.0C859.6,669.8 865.8,675.2 870.0,680.0C874.2,684.8 877.3,687.9 880.0,692.5C882.7,697.1 885.0,705.0 886.0,707.5" fill="none" stroke="#b04143" stroke-width="8.5" stroke-linecap="round" stroke-linejoin="round"/>
<path d="M816.0,596.0C815.0,598.8 811.8,607.7 810.0,612.5C808.2,617.3 806.8,620.4 805.0,625.0C803.2,629.6 800.0,637.5 799.0,640.0" fill="none" stroke="#b04143" stroke-width="6.0" stroke-linecap="round" stroke-linejoin="round"/>
<rect x="1030" y="400" width="130" height="95" fill="url(#gCord)"/>
<path d="M832.0,426.0C834.2,425.9 840.3,425.7 845.0,425.5C849.7,425.3 849.2,424.8 860.0,425.0C870.8,425.2 885.0,425.8 910.0,427.0C935.0,428.2 976.7,431.0 1010.0,432.5C1043.3,434.0 1086.7,435.2 1110.0,436.0C1133.3,436.8 1143.3,436.8 1150.0,437.0 L1150,461C1143.3,460.8 1133.3,460.6 1110.0,460.0C1086.7,459.4 1043.3,458.7 1010.0,457.5C976.7,456.3 935.0,453.8 910.0,453.0C885.0,452.2 870.7,452.5 860.0,452.5C849.3,452.5 849.7,452.4 846.0,453.0C842.3,453.6 839.3,455.5 838.0,456.0 Z" fill="#b04143"/>
<rect x="1110" y="425" width="45" height="45" fill="url(#gVein)"/>
<path d="M872.0,451.0C870.8,451.5 867.7,453.8 865.0,454.0C862.3,454.2 859.0,453.2 856.0,452.0C853.0,450.8 850.2,449.0 847.0,447.0C843.8,445.0 840.7,442.7 837.0,440.0C833.3,437.3 829.2,433.3 825.0,431.0C820.8,428.7 816.2,427.8 812.0,426.0C807.8,424.2 803.7,423.5 800.0,420.0C796.3,416.5 793.3,410.8 790.0,405.0C786.7,399.2 782.3,391.7 780.0,385.0C777.7,378.3 776.7,370.5 776.0,365.0C775.3,359.5 775.3,357.5 776.0,352.0C776.7,346.5 779.3,335.3 780.0,332.0" fill="none" stroke="#43376f" stroke-width="7.5" stroke-linecap="round" stroke-linejoin="round"/>
<path d="M780.0,334.0C780.3,331.7 781.6,325.3 782.0,320.0C782.4,314.7 781.8,309.2 782.5,302.0C783.2,294.8 784.9,285.3 786.0,277.0C787.1,268.7 788.8,258.2 789.0,252.0C789.2,245.8 787.3,242.0 787.0,240.0" fill="none" stroke="#43376f" stroke-width="2.8" stroke-linecap="round" stroke-linejoin="round"/>
<path d="M781.0,327.0C783.5,325.0 791.3,319.2 796.0,315.0C800.7,310.8 805.5,307.2 809.0,302.0C812.5,296.8 815.0,289.2 817.0,284.0C819.0,278.8 819.2,276.3 821.0,271.0C822.8,265.7 825.0,258.2 827.5,252.0C830.0,245.8 831.4,241.0 836.0,234.0C840.6,227.0 849.0,217.3 855.0,210.0C861.0,202.7 867.2,195.7 872.0,190.0C876.8,184.3 881.2,180.7 884.0,176.0C886.8,171.3 888.2,164.3 889.0,162.0" fill="none" stroke="#43376f" stroke-width="5.0" stroke-linecap="round" stroke-linejoin="round"/>
<path d="M842.0,457.0C841.0,456.2 838.2,453.8 836.0,452.0C833.8,450.2 831.5,447.7 829.0,446.0C826.5,444.3 823.8,442.3 821.0,442.0C818.2,441.7 814.7,442.7 812.0,444.0C809.3,445.3 807.5,447.0 805.0,450.0C802.5,453.0 799.8,457.0 797.0,462.0C794.2,467.0 790.5,473.7 788.0,480.0C785.5,486.3 782.9,492.5 782.0,500.0C781.1,507.5 782.0,516.7 782.5,525.0C783.0,533.3 783.3,542.5 785.0,550.0C786.7,557.5 790.2,564.8 792.5,570.0C794.8,575.2 798.2,576.0 799.0,581.0C799.8,586.0 798.2,593.7 797.5,600.0C796.8,606.3 796.2,614.0 795.0,619.0C793.8,624.0 790.8,628.2 790.0,630.0" fill="none" stroke="#43376f" stroke-width="7.5" stroke-linecap="round" stroke-linejoin="round"/>
<path d="M799.0,581.0C800.8,582.1 805.7,585.3 810.0,587.5C814.3,589.7 821.2,591.5 825.0,594.0C828.8,596.5 831.2,599.3 832.5,602.5C833.8,605.7 832.9,611.2 833.0,613.0" fill="none" stroke="#43376f" stroke-width="7.5" stroke-linecap="round" stroke-linejoin="round"/>
<path d="M866.0,428.0C866.7,427.4 868.3,425.2 870.0,424.5C871.7,423.8 874.0,423.1 876.0,423.5C878.0,423.9 880.2,424.9 882.0,427.0C883.8,429.1 885.2,432.8 887.0,436.0C888.8,439.2 891.0,443.2 893.0,446.0C895.0,448.8 897.0,451.2 899.0,452.5C901.0,453.8 903.0,454.2 905.0,454.0C907.0,453.8 910.0,451.9 911.0,451.5" fill="none" stroke="#43376f" stroke-width="7.8" stroke-linecap="round" stroke-linejoin="round"/>
<path d="M887.0,426.0C887.8,425.5 890.2,423.6 892.0,423.0C893.8,422.4 896.0,422.0 898.0,422.5C900.0,423.0 902.2,424.1 904.0,426.0C905.8,427.9 907.2,431.2 909.0,434.0C910.8,436.8 913.0,440.2 915.0,443.0C917.0,445.8 918.8,448.8 921.0,451.0C923.2,453.2 925.5,455.0 928.0,456.0C930.5,457.0 933.5,457.2 936.0,457.0C938.5,456.8 941.8,455.3 943.0,455.0" fill="none" stroke="#43376f" stroke-width="7.8" stroke-linecap="round" stroke-linejoin="round"/>
<path d="M953.0,430.5C953.7,429.9 955.5,427.5 957.3,426.7C959.1,425.9 961.6,425.2 963.8,425.6C966.0,426.1 968.3,427.2 970.3,429.4C972.3,431.7 973.7,435.7 975.7,439.1C977.7,442.6 980.0,447.0 982.2,449.9C984.3,452.9 986.5,455.5 988.6,457.0C990.8,458.4 993.0,458.8 995.1,458.6C997.3,458.4 1000.5,456.3 1001.6,455.9" fill="none" stroke="#43376f" stroke-width="7.8" stroke-linecap="round" stroke-linejoin="round"/>
<path d="M975.7,428.3C976.6,427.8 979.1,425.7 981.1,425.1C983.1,424.5 985.4,424.0 987.6,424.6C989.7,425.1 992.1,426.3 994.0,428.3C996.0,430.4 997.5,433.9 999.4,437.0C1001.4,440.0 1003.8,443.6 1005.9,446.7C1008.1,449.8 1010.1,453.0 1012.4,455.3C1014.7,457.7 1017.3,459.7 1020.0,460.7C1022.7,461.8 1025.9,462.0 1028.6,461.8C1031.3,461.6 1034.9,460.0 1036.2,459.7" fill="none" stroke="#43376f" stroke-width="7.8" stroke-linecap="round" stroke-linejoin="round"/>
<path d="M1043.0,433.0C1043.7,432.3 1045.6,429.9 1047.5,429.1C1049.3,428.2 1052.0,427.5 1054.2,428.0C1056.4,428.4 1058.9,429.5 1060.9,431.9C1063.0,434.2 1064.5,438.4 1066.5,442.0C1068.6,445.5 1071.0,450.1 1073.2,453.2C1075.5,456.2 1077.7,458.9 1080.0,460.4C1082.2,461.9 1084.4,462.3 1086.7,462.1C1088.9,461.9 1092.3,459.8 1093.4,459.3" fill="none" stroke="#43376f" stroke-width="7.8" stroke-linecap="round" stroke-linejoin="round"/>
<path d="M1066.5,430.8C1067.5,430.2 1070.1,428.1 1072.1,427.4C1074.2,426.7 1076.6,426.3 1078.8,426.8C1081.1,427.4 1083.5,428.6 1085.6,430.8C1087.6,432.9 1089.1,436.5 1091.2,439.7C1093.2,442.9 1095.6,446.6 1097.9,449.8C1100.1,453.0 1102.2,456.3 1104.6,458.8C1107.0,461.2 1109.6,463.0 1112.4,464.4C1115.2,465.8 1119.9,466.7 1121.4,467.2" fill="none" stroke="#43376f" stroke-width="7.8" stroke-linecap="round" stroke-linejoin="round"/>
<path d="M1117.0,464.0C1118.2,464.2 1121.8,465.3 1124.0,465.5C1126.2,465.7 1129.0,465.3 1130.0,465.3" fill="none" stroke="#43376f" stroke-width="7.8" stroke-linecap="butt" stroke-linejoin="round"/>
<path d="M1102.0,437.0C1103.3,435.9 1106.8,432.1 1110.0,430.5C1113.2,428.9 1117.3,427.9 1121.0,427.3C1124.7,426.7 1130.2,427.1 1132.0,427.0" fill="none" stroke="#43376f" stroke-width="7.4" stroke-linecap="butt" stroke-linejoin="round"/>
<rect x="1130" y="423.3" width="38" height="7.4" fill="url(#gStub)"/>
<rect x="1125" y="461.2" width="40" height="8" fill="url(#gStub)"/>
<path d="M809.0,112.5C809.5,111.2 811.5,109.2 815.0,108.0C818.5,106.8 823.3,106.3 830.0,105.5C836.7,104.7 848.7,103.8 855.0,103.0C861.3,102.2 865.0,102.7 868.0,101.0C871.0,99.3 871.0,95.8 873.0,93.0C875.0,90.2 877.2,85.9 880.0,84.0C882.8,82.1 887.0,81.3 890.0,81.5C893.0,81.7 896.3,83.4 898.0,85.0C899.7,86.6 900.8,89.1 900.0,91.0C899.2,92.9 896.0,95.3 893.0,96.5C890.0,97.7 884.7,97.1 882.0,98.0C879.3,98.9 878.0,99.0 877.0,102.0C876.0,105.0 875.8,111.3 876.0,116.0C876.2,120.7 878.7,127.0 878.0,130.0C877.3,133.0 875.0,134.3 872.0,134.0C869.0,133.7 863.7,129.7 860.0,128.0C856.3,126.3 854.0,125.7 850.0,124.0C846.0,122.3 840.7,119.2 836.0,118.0C831.3,116.8 826.0,117.3 822.0,117.0C818.0,116.7 814.2,116.8 812.0,116.0C809.8,115.2 808.5,113.8 809.0,112.5Z" fill="#ecc9c8" stroke="#d8cfe0" stroke-width="1.8" stroke-linejoin="round"/>
<path d="M825.0,136.0C825.7,133.8 828.7,132.1 832.0,131.0C835.3,129.9 840.7,129.9 845.0,129.5C849.3,129.1 854.2,127.8 858.0,128.5C861.8,129.2 867.7,132.2 868.0,134.0C868.3,135.8 863.3,137.8 860.0,139.0C856.7,140.2 852.0,139.8 848.0,141.0C844.0,142.2 839.3,145.5 836.0,146.0C832.7,146.5 829.8,145.7 828.0,144.0C826.2,142.3 824.3,138.2 825.0,136.0Z" fill="#ecc9c8" stroke="#d8cfe0" stroke-width="1.8" stroke-linejoin="round"/>
<path d="M874.0,97.5C873.5,99.6 871.2,104.6 871.0,110.0C870.8,115.4 871.8,123.8 872.5,130.0C873.2,136.2 874.2,141.8 875.0,147.5C875.8,153.2 877.1,161.2 877.5,164.0" fill="none" stroke="#43376f" stroke-width="2.6" stroke-linecap="round" stroke-linejoin="round"/>
<path d="M870.0,100.0C867.5,100.7 861.7,102.8 855.0,104.0C848.3,105.2 837.2,105.7 830.0,107.0C822.8,108.3 815.0,111.2 812.0,112.0" fill="none" stroke="#43376f" stroke-width="2.2" stroke-linecap="round" stroke-linejoin="round"/>
<path d="M884.0,150.0C882.1,147.9 876.5,140.7 872.5,137.5C868.5,134.3 863.8,132.7 860.0,131.0C856.2,129.3 854.0,129.2 850.0,127.5C846.0,125.8 840.3,122.4 836.0,121.0C831.7,119.6 827.9,120.2 824.0,119.0C820.1,117.8 814.4,114.8 812.5,114.0" fill="none" stroke="#b04143" stroke-width="3.2" stroke-linecap="round" stroke-linejoin="round"/>
<path d="M860.0,131.0C860.2,128.5 859.8,120.8 861.0,116.0C862.2,111.2 865.2,105.8 867.5,102.5C869.8,99.2 870.8,97.4 875.0,96.0C879.2,94.6 888.5,95.4 892.5,94.0C896.5,92.6 897.9,88.6 899.0,87.5" fill="none" stroke="#b04143" stroke-width="1.8" stroke-linecap="round" stroke-linejoin="round"/>
<path d="M855.0,132.5C852.9,133.3 846.7,136.1 842.5,137.5C838.3,138.9 832.8,141.0 830.0,141.0C827.2,141.0 826.7,138.1 826.0,137.5" fill="none" stroke="#b04143" stroke-width="2.0" stroke-linecap="round" stroke-linejoin="round"/>
<ellipse cx="702.0" cy="205.0" rx="11.1" ry="10.6" transform="rotate(0 702.0 205.0)" fill="#d8cfe0"/>
<path d="M702.0,205.0C704.7,204.7 712.3,203.3 718.0,203.0C723.7,202.7 729.8,202.5 736.0,203.0C742.2,203.5 749.0,204.5 755.0,206.0C761.0,207.5 769.2,211.0 772.0,212.0" fill="none" stroke="#d8cfe0" stroke-width="12.2" stroke-linecap="round" stroke-linejoin="round"/>
<ellipse cx="729.0" cy="171.0" rx="9.1" ry="10.1" transform="rotate(-25 729.0 171.0)" fill="#d8cfe0"/>
<path d="M729.0,172.0C730.2,173.7 733.5,178.2 736.0,182.0C738.5,185.8 741.3,191.2 744.0,195.0C746.7,198.8 750.7,203.3 752.0,205.0" fill="none" stroke="#d8cfe0" stroke-width="10.2" stroke-linecap="round" stroke-linejoin="round"/>
<path d="M778.0,214.0C777.8,211.7 776.7,204.5 777.0,200.0C777.3,195.5 779.5,189.2 780.0,187.0" fill="none" stroke="#d8cfe0" stroke-width="8.7" stroke-linecap="round" stroke-linejoin="round"/>
<path d="M780.0,187.0C778.3,185.7 773.2,181.3 770.0,179.0C766.8,176.7 762.5,174.0 761.0,173.0" fill="none" stroke="#d8cfe0" stroke-width="8.7" stroke-linecap="round" stroke-linejoin="round"/>
<ellipse cx="760.0" cy="172.0" rx="6.6" ry="6.1" transform="rotate(35 760.0 172.0)" fill="#d8cfe0"/>
<path d="M780.0,187.0C780.5,184.5 782.2,176.5 783.0,172.0C783.8,167.5 784.7,162.0 785.0,160.0" fill="none" stroke="#d8cfe0" stroke-width="8.7" stroke-linecap="round" stroke-linejoin="round"/>
<ellipse cx="785.0" cy="159.0" rx="6.1" ry="7.6" transform="rotate(5 785.0 159.0)" fill="#d8cfe0"/>
<path d="M780.0,187.0C781.8,186.3 787.5,184.2 791.0,183.0C794.5,181.8 799.3,180.5 801.0,180.0" fill="none" stroke="#d8cfe0" stroke-width="8.7" stroke-linecap="round" stroke-linejoin="round"/>
<ellipse cx="802.0" cy="180.0" rx="7.1" ry="6.1" transform="rotate(-15 802.0 180.0)" fill="#d8cfe0"/>
<path d="M760.0,212.0C758.5,213.7 753.7,218.8 751.0,222.0C748.3,225.2 745.2,229.5 744.0,231.0" fill="none" stroke="#d8cfe0" stroke-width="10.2" stroke-linecap="round" stroke-linejoin="round"/>
<ellipse cx="743.0" cy="232.0" rx="7.6" ry="8.1" transform="rotate(35 743.0 232.0)" fill="#d8cfe0"/>
<path d="M776.0,226.0C774.7,227.5 770.0,231.7 768.0,235.0C766.0,238.3 764.7,244.2 764.0,246.0" fill="none" stroke="#d8cfe0" stroke-width="7.7" stroke-linecap="round" stroke-linejoin="round"/>
<path d="M764.0,243.0C762.5,242.7 757.5,241.3 755.0,241.0C752.5,240.7 750.0,241.0 749.0,241.0" fill="none" stroke="#d8cfe0" stroke-width="7.7" stroke-linecap="round" stroke-linejoin="round"/>
<ellipse cx="748.0" cy="241.0" rx="6.1" ry="5.6" transform="rotate(0 748.0 241.0)" fill="#d8cfe0"/>
<path d="M764.0,246.0C763.5,247.5 761.7,252.3 761.0,255.0C760.3,257.7 760.2,260.8 760.0,262.0" fill="none" stroke="#d8cfe0" stroke-width="8.2" stroke-linecap="round" stroke-linejoin="round"/>
<ellipse cx="760.0" cy="263.0" rx="6.1" ry="6.6" transform="rotate(0 760.0 263.0)" fill="#d8cfe0"/>
<path d="M765.0,247.0C766.2,247.5 769.8,249.3 772.0,250.0C774.2,250.7 777.0,250.8 778.0,251.0" fill="none" stroke="#d8cfe0" stroke-width="7.7" stroke-linecap="round" stroke-linejoin="round"/>
<ellipse cx="779.0" cy="251.0" rx="6.1" ry="5.6" transform="rotate(0 779.0 251.0)" fill="#d8cfe0"/>
<ellipse cx="702.0" cy="205.0" rx="9.5" ry="9.0" transform="rotate(0 702.0 205.0)" fill="#ecc9c8"/>
<path d="M702.0,205.0C704.7,204.7 712.3,203.3 718.0,203.0C723.7,202.7 729.8,202.5 736.0,203.0C742.2,203.5 749.0,204.5 755.0,206.0C761.0,207.5 769.2,211.0 772.0,212.0" fill="none" stroke="#ecc9c8" stroke-width="9.0" stroke-linecap="round" stroke-linejoin="round"/>
<ellipse cx="729.0" cy="171.0" rx="7.5" ry="8.5" transform="rotate(-25 729.0 171.0)" fill="#ecc9c8"/>
<path d="M729.0,172.0C730.2,173.7 733.5,178.2 736.0,182.0C738.5,185.8 741.3,191.2 744.0,195.0C746.7,198.8 750.7,203.3 752.0,205.0" fill="none" stroke="#ecc9c8" stroke-width="7.0" stroke-linecap="round" stroke-linejoin="round"/>
<path d="M778.0,214.0C777.8,211.7 776.7,204.5 777.0,200.0C777.3,195.5 779.5,189.2 780.0,187.0" fill="none" stroke="#ecc9c8" stroke-width="5.5" stroke-linecap="round" stroke-linejoin="round"/>
<path d="M780.0,187.0C778.3,185.7 773.2,181.3 770.0,179.0C766.8,176.7 762.5,174.0 761.0,173.0" fill="none" stroke="#ecc9c8" stroke-width="5.5" stroke-linecap="round" stroke-linejoin="round"/>
<ellipse cx="760.0" cy="172.0" rx="5.0" ry="4.5" transform="rotate(35 760.0 172.0)" fill="#ecc9c8"/>
<path d="M780.0,187.0C780.5,184.5 782.2,176.5 783.0,172.0C783.8,167.5 784.7,162.0 785.0,160.0" fill="none" stroke="#ecc9c8" stroke-width="5.5" stroke-linecap="round" stroke-linejoin="round"/>
<ellipse cx="785.0" cy="159.0" rx="4.5" ry="6.0" transform="rotate(5 785.0 159.0)" fill="#ecc9c8"/>
<path d="M780.0,187.0C781.8,186.3 787.5,184.2 791.0,183.0C794.5,181.8 799.3,180.5 801.0,180.0" fill="none" stroke="#ecc9c8" stroke-width="5.5" stroke-linecap="round" stroke-linejoin="round"/>
<ellipse cx="802.0" cy="180.0" rx="5.5" ry="4.5" transform="rotate(-15 802.0 180.0)" fill="#ecc9c8"/>
<path d="M760.0,212.0C758.5,213.7 753.7,218.8 751.0,222.0C748.3,225.2 745.2,229.5 744.0,231.0" fill="none" stroke="#ecc9c8" stroke-width="7.0" stroke-linecap="round" stroke-linejoin="round"/>
<ellipse cx="743.0" cy="232.0" rx="6.0" ry="6.5" transform="rotate(35 743.0 232.0)" fill="#ecc9c8"/>
<path d="M776.0,226.0C774.7,227.5 770.0,231.7 768.0,235.0C766.0,238.3 764.7,244.2 764.0,246.0" fill="none" stroke="#ecc9c8" stroke-width="4.5" stroke-linecap="round" stroke-linejoin="round"/>
<path d="M764.0,243.0C762.5,242.7 757.5,241.3 755.0,241.0C752.5,240.7 750.0,241.0 749.0,241.0" fill="none" stroke="#ecc9c8" stroke-width="4.5" stroke-linecap="round" stroke-linejoin="round"/>
<ellipse cx="748.0" cy="241.0" rx="4.5" ry="4.0" transform="rotate(0 748.0 241.0)" fill="#ecc9c8"/>
<path d="M764.0,246.0C763.5,247.5 761.7,252.3 761.0,255.0C760.3,257.7 760.2,260.8 760.0,262.0" fill="none" stroke="#ecc9c8" stroke-width="5.0" stroke-linecap="round" stroke-linejoin="round"/>
<ellipse cx="760.0" cy="263.0" rx="4.5" ry="5.0" transform="rotate(0 760.0 263.0)" fill="#ecc9c8"/>
<path d="M765.0,247.0C766.2,247.5 769.8,249.3 772.0,250.0C774.2,250.7 777.0,250.8 778.0,251.0" fill="none" stroke="#ecc9c8" stroke-width="4.5" stroke-linecap="round" stroke-linejoin="round"/>
<ellipse cx="779.0" cy="251.0" rx="4.5" ry="4.0" transform="rotate(0 779.0 251.0)" fill="#ecc9c8"/>
<path d="M812.0,256.0C810.8,252.7 807.7,241.2 805.0,236.0C802.3,230.8 799.2,228.5 796.0,225.0C792.8,221.5 789.7,217.9 786.0,215.0C782.3,212.1 776.0,208.8 774.0,207.5" fill="none" stroke="#b04143" stroke-width="7.0" stroke-linecap="butt" stroke-linejoin="round"/>
<path d="M776.0,208.5C772.5,207.2 761.7,202.8 755.0,201.0C748.3,199.2 739.2,198.1 736.0,197.5" fill="none" stroke="#b04143" stroke-width="4.2" stroke-linecap="round" stroke-linejoin="round"/>
<path d="M736.0,197.5C732.9,197.1 723.1,195.2 717.5,195.0C711.9,194.8 706.2,194.8 702.5,196.0C698.8,197.2 696.2,201.4 695.0,202.5" fill="none" stroke="#b04143" stroke-width="2.6" stroke-linecap="round" stroke-linejoin="round"/>
<path d="M750.0,203.0C748.8,200.7 744.8,193.5 742.5,189.0C740.2,184.5 738.1,179.8 736.0,176.0C733.9,172.2 731.0,167.7 730.0,166.0" fill="none" stroke="#b04143" stroke-width="2.6" stroke-linecap="round" stroke-linejoin="round"/>
<path d="M780.0,206.0C780.2,202.5 780.8,191.4 781.0,185.0C781.2,178.6 780.8,172.5 781.0,167.5C781.2,162.5 782.2,157.1 782.5,155.0" fill="none" stroke="#b04143" stroke-width="1.8" stroke-linecap="round" stroke-linejoin="round"/>
<path d="M781.0,187.0C778.8,185.2 771.4,179.0 767.5,176.0C763.6,173.0 759.2,170.2 757.5,169.0" fill="none" stroke="#b04143" stroke-width="1.6" stroke-linecap="round" stroke-linejoin="round"/>
<path d="M781.0,186.0C782.9,185.4 788.8,183.5 792.5,182.5C796.2,181.5 801.2,180.4 803.0,180.0" fill="none" stroke="#b04143" stroke-width="1.6" stroke-linecap="round" stroke-linejoin="round"/>
<path d="M796.0,226.0C793.3,226.2 784.8,226.8 780.0,227.5C775.2,228.2 770.8,228.6 767.5,230.0C764.2,231.4 761.7,232.8 760.0,236.0C758.3,239.2 757.5,244.8 757.5,249.0C757.5,253.2 759.6,259.0 760.0,261.0" fill="none" stroke="#b04143" stroke-width="2.2" stroke-linecap="round" stroke-linejoin="round"/>
<path d="M695.0,205.0C695.2,206.2 693.3,210.8 696.0,212.5C698.7,214.2 705.3,215.2 711.0,215.0C716.7,214.8 724.3,211.7 730.0,211.0C735.7,210.3 740.8,210.3 745.0,211.0C749.2,211.7 751.2,213.3 755.0,215.0C758.8,216.7 763.8,218.9 767.5,221.0C771.2,223.1 775.8,226.4 777.5,227.5" fill="none" stroke="#43376f" stroke-width="3.4" stroke-linecap="round" stroke-linejoin="round"/>
<path d="M721.0,167.5C721.5,169.2 721.8,175.0 724.0,177.5C726.2,180.0 731.3,180.0 734.0,182.5C736.7,185.0 738.0,188.8 740.0,192.5C742.0,196.2 744.3,201.9 746.0,205.0C747.7,208.1 749.3,210.0 750.0,211.0" fill="none" stroke="#43376f" stroke-width="2.6" stroke-linecap="round" stroke-linejoin="round"/>
<path d="M777.5,226.0C777.2,222.5 776.0,211.0 776.0,205.0C776.0,199.0 777.2,192.5 777.5,190.0" fill="none" stroke="#6a6394" stroke-width="2.4" stroke-linecap="round" stroke-linejoin="round"/>
<path d="M770.0,239.0C771.7,239.7 777.2,240.5 780.0,243.0C782.8,245.5 785.5,249.5 787.0,254.0C788.5,258.5 788.7,267.3 789.0,270.0" fill="none" stroke="#d8cfe0" stroke-width="2.0" stroke-linecap="round" stroke-linejoin="round"/>
<ellipse cx="629.0" cy="350.0" rx="10.1" ry="9.6" transform="rotate(0 629.0 350.0)" fill="#d8cfe0"/>
<path d="M629.0,350.0C631.7,350.0 639.0,350.3 645.0,350.0C651.0,349.7 657.5,349.2 665.0,348.0C672.5,346.8 685.8,343.8 690.0,343.0" fill="none" stroke="#d8cfe0" stroke-width="12.2" stroke-linecap="round" stroke-linejoin="round"/>
<ellipse cx="637.5" cy="325.0" rx="7.1" ry="6.6" transform="rotate(30 637.5 325.0)" fill="#d8cfe0"/>
<path d="M638.0,326.0C639.7,327.2 644.3,330.5 648.0,333.0C651.7,335.5 658.0,339.7 660.0,341.0" fill="none" stroke="#d8cfe0" stroke-width="8.2" stroke-linecap="round" stroke-linejoin="round"/>
<ellipse cx="675.0" cy="321.0" rx="7.6" ry="7.1" transform="rotate(0 675.0 321.0)" fill="#d8cfe0"/>
<path d="M676.0,322.0C677.3,322.5 681.3,323.7 684.0,325.0C686.7,326.3 690.7,329.2 692.0,330.0" fill="none" stroke="#d8cfe0" stroke-width="7.7" stroke-linecap="round" stroke-linejoin="round"/>
<ellipse cx="705.0" cy="282.0" rx="10.1" ry="11.1" transform="rotate(0 705.0 282.0)" fill="#d8cfe0"/>
<path d="M705.0,284.0C704.7,286.7 703.2,294.8 703.0,300.0C702.8,305.2 703.0,310.3 704.0,315.0C705.0,319.7 708.2,325.8 709.0,328.0" fill="none" stroke="#d8cfe0" stroke-width="11.7" stroke-linecap="round" stroke-linejoin="round"/>
<ellipse cx="732.5" cy="302.5" rx="8.1" ry="9.1" transform="rotate(35 732.5 302.5)" fill="#d8cfe0"/>
<path d="M732.0,304.0C730.8,305.8 727.2,311.2 725.0,315.0C722.8,318.8 720.0,325.0 719.0,327.0" fill="none" stroke="#d8cfe0" stroke-width="10.2" stroke-linecap="round" stroke-linejoin="round"/>
<path d="M655.0,357.0C654.3,359.5 652.2,366.8 651.0,372.0C649.8,377.2 648.5,385.3 648.0,388.0" fill="none" stroke="#d8cfe0" stroke-width="9.2" stroke-linecap="round" stroke-linejoin="round"/>
<ellipse cx="647.5" cy="391.0" rx="7.6" ry="9.6" transform="rotate(10 647.5 391.0)" fill="#d8cfe0"/>
<path d="M700.0,350.0C698.8,352.7 695.0,360.2 693.0,366.0C691.0,371.8 689.2,379.3 688.0,385.0C686.8,390.7 686.3,397.5 686.0,400.0" fill="none" stroke="#d8cfe0" stroke-width="10.2" stroke-linecap="round" stroke-linejoin="round"/>
<ellipse cx="672.0" cy="377.0" rx="7.6" ry="6.1" transform="rotate(30 672.0 377.0)" fill="#d8cfe0"/>
<path d="M673.0,377.0C674.3,376.8 678.5,376.5 681.0,376.0C683.5,375.5 686.8,374.3 688.0,374.0" fill="none" stroke="#d8cfe0" stroke-width="7.2" stroke-linecap="round" stroke-linejoin="round"/>
<ellipse cx="675.0" cy="408.0" rx="10.6" ry="9.6" transform="rotate(0 675.0 408.0)" fill="#d8cfe0"/>
<path d="M686.0,398.0C685.0,399.0 681.0,403.0 680.0,404.0" fill="none" stroke="#d8cfe0" stroke-width="8.2" stroke-linecap="round" stroke-linejoin="round"/>
<ellipse cx="702.0" cy="402.0" rx="7.1" ry="6.1" transform="rotate(-20 702.0 402.0)" fill="#d8cfe0"/>
<path d="M688.0,398.0C689.3,398.5 694.7,400.5 696.0,401.0" fill="none" stroke="#d8cfe0" stroke-width="7.2" stroke-linecap="round" stroke-linejoin="round"/>
<ellipse cx="629.0" cy="350.0" rx="8.5" ry="8.0" transform="rotate(0 629.0 350.0)" fill="#ecc9c8"/>
<path d="M629.0,350.0C631.7,350.0 639.0,350.3 645.0,350.0C651.0,349.7 657.5,349.2 665.0,348.0C672.5,346.8 685.8,343.8 690.0,343.0" fill="none" stroke="#ecc9c8" stroke-width="9.0" stroke-linecap="round" stroke-linejoin="round"/>
<ellipse cx="637.5" cy="325.0" rx="5.5" ry="5.0" transform="rotate(30 637.5 325.0)" fill="#ecc9c8"/>
<path d="M638.0,326.0C639.7,327.2 644.3,330.5 648.0,333.0C651.7,335.5 658.0,339.7 660.0,341.0" fill="none" stroke="#ecc9c8" stroke-width="5.0" stroke-linecap="round" stroke-linejoin="round"/>
<ellipse cx="675.0" cy="321.0" rx="6.0" ry="5.5" transform="rotate(0 675.0 321.0)" fill="#ecc9c8"/>
<path d="M676.0,322.0C677.3,322.5 681.3,323.7 684.0,325.0C686.7,326.3 690.7,329.2 692.0,330.0" fill="none" stroke="#ecc9c8" stroke-width="4.5" stroke-linecap="round" stroke-linejoin="round"/>
<ellipse cx="705.0" cy="282.0" rx="8.5" ry="9.5" transform="rotate(0 705.0 282.0)" fill="#ecc9c8"/>
<path d="M705.0,284.0C704.7,286.7 703.2,294.8 703.0,300.0C702.8,305.2 703.0,310.3 704.0,315.0C705.0,319.7 708.2,325.8 709.0,328.0" fill="none" stroke="#ecc9c8" stroke-width="8.5" stroke-linecap="round" stroke-linejoin="round"/>
<ellipse cx="732.5" cy="302.5" rx="6.5" ry="7.5" transform="rotate(35 732.5 302.5)" fill="#ecc9c8"/>
<path d="M732.0,304.0C730.8,305.8 727.2,311.2 725.0,315.0C722.8,318.8 720.0,325.0 719.0,327.0" fill="none" stroke="#ecc9c8" stroke-width="7.0" stroke-linecap="round" stroke-linejoin="round"/>
<path d="M655.0,357.0C654.3,359.5 652.2,366.8 651.0,372.0C649.8,377.2 648.5,385.3 648.0,388.0" fill="none" stroke="#ecc9c8" stroke-width="6.0" stroke-linecap="round" stroke-linejoin="round"/>
<ellipse cx="647.5" cy="391.0" rx="6.0" ry="8.0" transform="rotate(10 647.5 391.0)" fill="#ecc9c8"/>
<path d="M700.0,350.0C698.8,352.7 695.0,360.2 693.0,366.0C691.0,371.8 689.2,379.3 688.0,385.0C686.8,390.7 686.3,397.5 686.0,400.0" fill="none" stroke="#ecc9c8" stroke-width="7.0" stroke-linecap="round" stroke-linejoin="round"/>
<ellipse cx="672.0" cy="377.0" rx="6.0" ry="4.5" transform="rotate(30 672.0 377.0)" fill="#ecc9c8"/>
<path d="M673.0,377.0C674.3,376.8 678.5,376.5 681.0,376.0C683.5,375.5 686.8,374.3 688.0,374.0" fill="none" stroke="#ecc9c8" stroke-width="4.0" stroke-linecap="round" stroke-linejoin="round"/>
<ellipse cx="675.0" cy="408.0" rx="9.0" ry="8.0" transform="rotate(0 675.0 408.0)" fill="#ecc9c8"/>
<path d="M686.0,398.0C685.0,399.0 681.0,403.0 680.0,404.0" fill="none" stroke="#ecc9c8" stroke-width="5.0" stroke-linecap="round" stroke-linejoin="round"/>
<ellipse cx="702.0" cy="402.0" rx="5.5" ry="4.5" transform="rotate(-20 702.0 402.0)" fill="#ecc9c8"/>
<path d="M688.0,398.0C689.3,398.5 694.7,400.5 696.0,401.0" fill="none" stroke="#ecc9c8" stroke-width="4.0" stroke-linecap="round" stroke-linejoin="round"/>
<path d="M800.0,372.5C795.8,370.0 783.3,362.1 775.0,357.5C766.7,352.9 757.3,348.6 750.0,345.0C742.7,341.4 737.2,338.1 731.0,336.0C724.8,333.9 715.6,333.1 712.5,332.5" fill="none" stroke="#b04143" stroke-width="7.5" stroke-linecap="butt" stroke-linejoin="round"/>
<path d="M714.0,332.5C710.7,332.8 700.5,333.2 694.0,334.0C687.5,334.8 680.7,336.1 675.0,337.5C669.3,338.9 662.5,341.7 660.0,342.5" fill="none" stroke="#b04143" stroke-width="5.0" stroke-linecap="round" stroke-linejoin="round"/>
<path d="M660.0,342.5C657.9,343.1 651.7,345.8 647.5,346.0C643.3,346.2 638.8,344.2 635.0,344.0C631.2,343.8 626.7,344.8 625.0,345.0" fill="none" stroke="#b04143" stroke-width="2.6" stroke-linecap="round" stroke-linejoin="round"/>
<path d="M660.0,341.0C658.0,339.5 651.5,335.0 648.0,332.0C644.5,329.0 640.5,324.5 639.0,323.0" fill="none" stroke="#b04143" stroke-width="1.8" stroke-linecap="round" stroke-linejoin="round"/>
<path d="M720.0,334.0C718.7,331.7 714.0,325.7 712.0,320.0C710.0,314.3 708.0,306.3 708.0,300.0C708.0,293.7 712.3,286.3 712.0,282.0C711.7,277.7 707.0,275.3 706.0,274.0" fill="none" stroke="#b04143" stroke-width="2.8" stroke-linecap="round" stroke-linejoin="round"/>
<path d="M722.0,333.0C722.8,330.5 724.8,322.7 727.0,318.0C729.2,313.3 733.2,308.3 735.0,305.0C736.8,301.7 737.5,299.2 738.0,298.0" fill="none" stroke="#b04143" stroke-width="1.8" stroke-linecap="round" stroke-linejoin="round"/>
<path d="M702.0,338.0C700.7,341.0 696.2,349.7 694.0,356.0C691.8,362.3 690.3,369.3 689.0,376.0C687.7,382.7 687.5,390.3 686.0,396.0C684.5,401.7 681.0,407.7 680.0,410.0" fill="none" stroke="#b04143" stroke-width="2.4" stroke-linecap="round" stroke-linejoin="round"/>
<path d="M775.0,385.0C771.8,381.8 762.2,371.4 756.0,366.0C749.8,360.6 743.7,355.6 737.5,352.5C731.3,349.4 722.1,348.3 719.0,347.5" fill="none" stroke="#43376f" stroke-width="7.5" stroke-linecap="round" stroke-linejoin="round"/>
<path d="M719.0,347.5C715.8,348.6 706.3,352.1 700.0,354.0C693.7,355.9 687.2,358.0 681.0,359.0C674.8,360.0 665.6,359.8 662.5,360.0" fill="none" stroke="#43376f" stroke-width="5.5" stroke-linecap="round" stroke-linejoin="round"/>
<path d="M664.0,360.0C660.7,359.8 650.1,359.7 644.0,359.0C637.9,358.3 631.2,357.5 627.5,356.0C623.8,354.5 622.9,351.0 622.0,350.0" fill="none" stroke="#43376f" stroke-width="3.6" stroke-linecap="round" stroke-linejoin="round"/>
<path d="M700.0,280.0C699.5,283.3 697.2,293.7 697.0,300.0C696.8,306.3 697.2,312.5 699.0,318.0C700.8,323.5 704.7,328.3 708.0,333.0C711.3,337.7 717.2,343.8 719.0,346.0" fill="none" stroke="#43376f" stroke-width="2.8" stroke-linecap="round" stroke-linejoin="round"/>
<path d="M660.0,358.0C659.2,360.3 656.7,366.7 655.0,372.0C653.3,377.3 650.8,387.0 650.0,390.0" fill="none" stroke="#43376f" stroke-width="2.0" stroke-linecap="round" stroke-linejoin="round"/>
<path d="M700.0,354.0C699.2,356.7 696.5,364.3 695.0,370.0C693.5,375.7 691.7,385.0 691.0,388.0" fill="none" stroke="#43376f" stroke-width="2.0" stroke-linecap="round" stroke-linejoin="round"/>
<ellipse cx="633.0" cy="525.0" rx="8.6" ry="8.1" transform="rotate(0 633.0 525.0)" fill="#d8cfe0"/>
<path d="M634.0,524.0C635.8,522.3 642.0,517.5 645.0,514.0C648.0,510.5 648.7,505.8 652.0,503.0C655.3,500.2 659.5,497.7 665.0,497.0C670.5,496.3 679.2,497.7 685.0,499.0C690.8,500.3 697.5,504.0 700.0,505.0" fill="none" stroke="#d8cfe0" stroke-width="10.2" stroke-linecap="round" stroke-linejoin="round"/>
<path d="M690.0,512.0C687.0,512.0 677.0,511.0 672.0,512.0C667.0,513.0 662.7,515.0 660.0,518.0C657.3,521.0 655.8,526.0 656.0,530.0C656.2,534.0 660.2,540.0 661.0,542.0" fill="none" stroke="#d8cfe0" stroke-width="9.2" stroke-linecap="round" stroke-linejoin="round"/>
<ellipse cx="664.0" cy="548.0" rx="7.1" ry="8.1" transform="rotate(-20 664.0 548.0)" fill="#d8cfe0"/>
<ellipse cx="662.0" cy="574.0" rx="10.1" ry="9.1" transform="rotate(0 662.0 574.0)" fill="#d8cfe0"/>
<path d="M668.0,575.0C669.7,575.5 676.3,577.5 678.0,578.0" fill="none" stroke="#d8cfe0" stroke-width="7.2" stroke-linecap="round" stroke-linejoin="round"/>
<ellipse cx="722.5" cy="478.0" rx="7.1" ry="12.6" transform="rotate(0 722.5 478.0)" fill="#d8cfe0"/>
<path d="M723.0,488.0C723.5,490.0 725.5,498.0 726.0,500.0" fill="none" stroke="#d8cfe0" stroke-width="7.2" stroke-linecap="round" stroke-linejoin="round"/>
<ellipse cx="711.0" cy="496.0" rx="9.6" ry="5.6" transform="rotate(5 711.0 496.0)" fill="#d8cfe0"/>
<ellipse cx="745.0" cy="491.0" rx="7.6" ry="9.1" transform="rotate(40 745.0 491.0)" fill="#d8cfe0"/>
<path d="M742.0,496.0C741.0,498.0 737.0,506.0 736.0,508.0" fill="none" stroke="#d8cfe0" stroke-width="6.7" stroke-linecap="round" stroke-linejoin="round"/>
<path d="M700.0,516.0C698.3,518.0 692.7,523.7 690.0,528.0C687.3,532.3 685.7,537.0 684.0,542.0C682.3,547.0 680.8,552.5 680.0,558.0C679.2,563.5 678.7,569.7 679.0,575.0C679.3,580.3 681.5,587.5 682.0,590.0" fill="none" stroke="#d8cfe0" stroke-width="11.2" stroke-linecap="round" stroke-linejoin="round"/>
<ellipse cx="633.0" cy="525.0" rx="7.0" ry="6.5" transform="rotate(0 633.0 525.0)" fill="#ecc9c8"/>
<path d="M634.0,524.0C635.8,522.3 642.0,517.5 645.0,514.0C648.0,510.5 648.7,505.8 652.0,503.0C655.3,500.2 659.5,497.7 665.0,497.0C670.5,496.3 679.2,497.7 685.0,499.0C690.8,500.3 697.5,504.0 700.0,505.0" fill="none" stroke="#ecc9c8" stroke-width="7.0" stroke-linecap="round" stroke-linejoin="round"/>
<path d="M690.0,512.0C687.0,512.0 677.0,511.0 672.0,512.0C667.0,513.0 662.7,515.0 660.0,518.0C657.3,521.0 655.8,526.0 656.0,530.0C656.2,534.0 660.2,540.0 661.0,542.0" fill="none" stroke="#ecc9c8" stroke-width="6.0" stroke-linecap="round" stroke-linejoin="round"/>
<ellipse cx="664.0" cy="548.0" rx="5.5" ry="6.5" transform="rotate(-20 664.0 548.0)" fill="#ecc9c8"/>
<ellipse cx="662.0" cy="574.0" rx="8.5" ry="7.5" transform="rotate(0 662.0 574.0)" fill="#ecc9c8"/>
<path d="M668.0,575.0C669.7,575.5 676.3,577.5 678.0,578.0" fill="none" stroke="#ecc9c8" stroke-width="4.0" stroke-linecap="round" stroke-linejoin="round"/>
<ellipse cx="722.5" cy="478.0" rx="5.5" ry="11.0" transform="rotate(0 722.5 478.0)" fill="#ecc9c8"/>
<path d="M723.0,488.0C723.5,490.0 725.5,498.0 726.0,500.0" fill="none" stroke="#ecc9c8" stroke-width="4.0" stroke-linecap="round" stroke-linejoin="round"/>
<ellipse cx="711.0" cy="496.0" rx="8.0" ry="4.0" transform="rotate(5 711.0 496.0)" fill="#ecc9c8"/>
<ellipse cx="745.0" cy="491.0" rx="6.0" ry="7.5" transform="rotate(40 745.0 491.0)" fill="#ecc9c8"/>
<path d="M742.0,496.0C741.0,498.0 737.0,506.0 736.0,508.0" fill="none" stroke="#ecc9c8" stroke-width="3.5" stroke-linecap="round" stroke-linejoin="round"/>
<path d="M700.0,516.0C698.3,518.0 692.7,523.7 690.0,528.0C687.3,532.3 685.7,537.0 684.0,542.0C682.3,547.0 680.8,552.5 680.0,558.0C679.2,563.5 678.7,569.7 679.0,575.0C679.3,580.3 681.5,587.5 682.0,590.0" fill="none" stroke="#ecc9c8" stroke-width="8.0" stroke-linecap="round" stroke-linejoin="round"/>
<path d="M644.0,516.0C644.5,513.2 647.2,506.8 650.0,504.0C652.8,501.2 657.2,500.0 661.0,499.0C664.8,498.0 668.2,497.4 673.0,498.0C677.8,498.6 685.0,500.3 690.0,502.5C695.0,504.7 701.2,507.2 703.0,511.0C704.8,514.8 704.8,523.3 701.0,525.0C697.2,526.7 686.8,521.9 680.0,521.0C673.2,520.1 665.5,519.5 660.0,519.5C654.5,519.5 649.7,521.6 647.0,521.0C644.3,520.4 643.5,518.8 644.0,516.0Z" fill="#ecc9c8"/>
<path d="M797.5,460.0C795.8,464.2 790.6,477.7 787.5,485.0C784.4,492.3 782.6,499.2 779.0,504.0C775.4,508.8 771.2,511.5 766.0,514.0C760.8,516.5 752.7,518.2 747.5,519.0C742.3,519.8 739.2,519.7 735.0,519.0C730.8,518.3 727.7,516.5 722.5,515.0C717.3,513.5 707.1,510.8 704.0,510.0" fill="none" stroke="#43376f" stroke-width="7.5" stroke-linecap="round" stroke-linejoin="round"/>
<path d="M704.0,510.0C701.8,508.5 696.2,503.3 691.0,501.0C685.8,498.7 677.7,496.6 672.5,496.0C667.3,495.4 663.8,496.4 660.0,497.5C656.2,498.6 652.5,500.0 650.0,502.5C647.5,505.0 647.3,509.4 645.0,512.5C642.7,515.6 637.5,519.6 636.0,521.0" fill="none" stroke="#43376f" stroke-width="4.5" stroke-linecap="round" stroke-linejoin="round"/>
<path d="M704.0,510.0C700.8,509.0 690.7,504.7 685.0,504.0C679.3,503.3 674.2,504.5 670.0,506.0C665.8,507.5 662.5,509.8 660.0,513.0C657.5,516.2 655.2,520.7 655.0,525.0C654.8,529.3 657.5,535.5 659.0,539.0C660.5,542.5 663.2,544.8 664.0,546.0" fill="none" stroke="#43376f" stroke-width="4.0" stroke-linecap="round" stroke-linejoin="round"/>
<path d="M706.0,511.0C703.7,513.2 695.5,519.2 692.0,524.0C688.5,528.8 687.0,534.8 685.0,540.0C683.0,545.2 681.2,550.0 680.0,555.0C678.8,560.0 677.3,565.2 677.5,570.0C677.7,574.8 680.4,581.7 681.0,584.0" fill="none" stroke="#43376f" stroke-width="5.5" stroke-linecap="round" stroke-linejoin="round"/>
<path d="M800.0,508.0C798.3,509.7 794.6,514.5 790.0,518.0C785.4,521.5 778.5,526.3 772.5,529.0C766.5,531.7 760.2,533.2 754.0,534.0C747.8,534.8 741.3,534.5 735.0,534.0C728.7,533.5 719.2,531.5 716.0,531.0" fill="none" stroke="#b04143" stroke-width="6.0" stroke-linecap="butt" stroke-linejoin="round"/>
<path d="M718.0,531.5C714.6,530.6 704.0,527.5 697.5,526.0C691.0,524.5 685.2,523.3 679.0,522.5C672.8,521.7 665.7,521.2 660.0,521.0C654.3,520.8 649.3,520.3 645.0,521.0C640.7,521.7 635.8,524.3 634.0,525.0" fill="none" stroke="#b04143" stroke-width="2.8" stroke-linecap="round" stroke-linejoin="round"/>
<path d="M735.0,534.0C731.8,534.3 721.0,534.7 716.0,536.0C711.0,537.3 708.1,539.2 705.0,542.0C701.9,544.8 700.0,548.2 697.5,552.5C695.0,556.8 692.1,562.6 690.0,567.5C687.9,572.4 685.8,579.6 685.0,582.0" fill="none" stroke="#b04143" stroke-width="3.4" stroke-linecap="round" stroke-linejoin="round"/>
<path d="M778.0,642.0C776.3,640.0 771.0,633.5 768.0,630.0C765.0,626.5 761.3,622.5 760.0,621.0" fill="none" stroke="#d8cfe0" stroke-width="10.2" stroke-linecap="round" stroke-linejoin="round"/>
<ellipse cx="758.0" cy="619.0" rx="9.6" ry="7.6" transform="rotate(30 758.0 619.0)" fill="#d8cfe0"/>
<path d="M772.0,646.0C770.7,645.3 766.7,643.0 764.0,642.0C761.3,641.0 757.3,640.3 756.0,640.0" fill="none" stroke="#d8cfe0" stroke-width="9.2" stroke-linecap="round" stroke-linejoin="round"/>
<ellipse cx="755.0" cy="639.0" rx="10.6" ry="7.1" transform="rotate(-15 755.0 639.0)" fill="#d8cfe0"/>
<ellipse cx="782.0" cy="616.0" rx="5.6" ry="10.1" transform="rotate(15 782.0 616.0)" fill="#d8cfe0"/>
<path d="M783.0,622.0C783.3,623.7 784.7,630.3 785.0,632.0" fill="none" stroke="#d8cfe0" stroke-width="6.2" stroke-linecap="round" stroke-linejoin="round"/>
<ellipse cx="740.0" cy="655.0" rx="8.1" ry="8.6" transform="rotate(0 740.0 655.0)" fill="#d8cfe0"/>
<path d="M740.0,655.0C741.7,655.2 746.3,655.2 750.0,656.0C753.7,656.8 758.7,658.7 762.0,660.0C765.3,661.3 768.7,663.3 770.0,664.0" fill="none" stroke="#d8cfe0" stroke-width="13.2" stroke-linecap="round" stroke-linejoin="round"/>
<path d="M766.0,668.0C764.2,670.3 758.5,677.3 755.0,682.0C751.5,686.7 748.5,691.8 745.0,696.0C741.5,700.2 735.8,705.2 734.0,707.0" fill="none" stroke="#d8cfe0" stroke-width="13.2" stroke-linecap="round" stroke-linejoin="round"/>
<ellipse cx="731.0" cy="709.0" rx="9.1" ry="8.6" transform="rotate(40 731.0 709.0)" fill="#d8cfe0"/>
<path d="M772.0,678.0C771.7,680.8 770.7,689.3 770.0,695.0C769.3,700.7 768.3,709.2 768.0,712.0" fill="none" stroke="#d8cfe0" stroke-width="11.7" stroke-linecap="round" stroke-linejoin="round"/>
<ellipse cx="767.5" cy="716.0" rx="7.6" ry="8.1" transform="rotate(0 767.5 716.0)" fill="#d8cfe0"/>
<path d="M778.0,642.0C776.3,640.0 771.0,633.5 768.0,630.0C765.0,626.5 761.3,622.5 760.0,621.0" fill="none" stroke="#ecc9c8" stroke-width="7.0" stroke-linecap="round" stroke-linejoin="round"/>
<ellipse cx="758.0" cy="619.0" rx="8.0" ry="6.0" transform="rotate(30 758.0 619.0)" fill="#ecc9c8"/>
<path d="M772.0,646.0C770.7,645.3 766.7,643.0 764.0,642.0C761.3,641.0 757.3,640.3 756.0,640.0" fill="none" stroke="#ecc9c8" stroke-width="6.0" stroke-linecap="round" stroke-linejoin="round"/>
<ellipse cx="755.0" cy="639.0" rx="9.0" ry="5.5" transform="rotate(-15 755.0 639.0)" fill="#ecc9c8"/>
<ellipse cx="782.0" cy="616.0" rx="4.0" ry="8.5" transform="rotate(15 782.0 616.0)" fill="#ecc9c8"/>
<path d="M783.0,622.0C783.3,623.7 784.7,630.3 785.0,632.0" fill="none" stroke="#ecc9c8" stroke-width="3.0" stroke-linecap="round" stroke-linejoin="round"/>
<ellipse cx="740.0" cy="655.0" rx="6.5" ry="7.0" transform="rotate(0 740.0 655.0)" fill="#ecc9c8"/>
<path d="M740.0,655.0C741.7,655.2 746.3,655.2 750.0,656.0C753.7,656.8 758.7,658.7 762.0,660.0C765.3,661.3 768.7,663.3 770.0,664.0" fill="none" stroke="#ecc9c8" stroke-width="10.0" stroke-linecap="round" stroke-linejoin="round"/>
<path d="M766.0,668.0C764.2,670.3 758.5,677.3 755.0,682.0C751.5,686.7 748.5,691.8 745.0,696.0C741.5,700.2 735.8,705.2 734.0,707.0" fill="none" stroke="#ecc9c8" stroke-width="10.0" stroke-linecap="round" stroke-linejoin="round"/>
<ellipse cx="731.0" cy="709.0" rx="7.5" ry="7.0" transform="rotate(40 731.0 709.0)" fill="#ecc9c8"/>
<path d="M772.0,678.0C771.7,680.8 770.7,689.3 770.0,695.0C769.3,700.7 768.3,709.2 768.0,712.0" fill="none" stroke="#ecc9c8" stroke-width="8.5" stroke-linecap="round" stroke-linejoin="round"/>
<ellipse cx="767.5" cy="716.0" rx="6.0" ry="6.5" transform="rotate(0 767.5 716.0)" fill="#ecc9c8"/>
<path d="M800.0,590.0C799.3,593.2 797.7,602.8 796.0,609.0C794.3,615.2 792.7,621.9 790.0,627.5C787.3,633.1 783.2,637.9 780.0,642.5C776.8,647.1 774.5,650.8 771.0,655.0C767.5,659.2 762.5,663.3 759.0,667.5C755.5,671.7 753.2,675.2 750.0,680.0C746.8,684.8 743.2,691.2 740.0,696.0C736.8,700.8 732.5,706.8 731.0,709.0" fill="none" stroke="#43376f" stroke-width="6.0" stroke-linecap="round" stroke-linejoin="round"/>
<path d="M812.5,600.0C811.4,603.5 808.2,614.3 806.0,621.0C803.8,627.7 801.7,634.3 799.0,640.0C796.3,645.7 793.2,650.8 790.0,655.0C786.8,659.2 783.2,661.7 780.0,665.0C776.8,668.3 773.7,670.8 771.0,675.0C768.3,679.2 765.4,684.3 764.0,690.0C762.6,695.7 762.3,704.2 762.5,709.0C762.7,713.8 764.6,717.3 765.0,719.0" fill="none" stroke="#b04143" stroke-width="5.5" stroke-linecap="round" stroke-linejoin="round"/>
<path d="M782.0,646.0C780.0,644.0 773.7,638.0 770.0,634.0C766.3,630.0 763.0,625.0 760.0,622.0C757.0,619.0 753.3,617.0 752.0,616.0" fill="none" stroke="#b04143" stroke-width="2.0" stroke-linecap="round" stroke-linejoin="round"/>
<path d="M772.0,663.0C769.3,662.0 761.0,658.7 756.0,657.0C751.0,655.3 745.3,653.3 742.0,653.0C738.7,652.7 737.0,654.7 736.0,655.0" fill="none" stroke="#b04143" stroke-width="2.0" stroke-linecap="round" stroke-linejoin="round"/>
<path d="M770.0,668.0C768.0,670.7 761.7,679.0 758.0,684.0C754.3,689.0 751.3,694.0 748.0,698.0C744.7,702.0 739.7,706.3 738.0,708.0" fill="none" stroke="#b04143" stroke-width="2.0" stroke-linecap="round" stroke-linejoin="round"/>
<path d="M768.0,680.0C768.3,683.3 769.8,694.0 770.0,700.0C770.2,706.0 769.2,713.3 769.0,716.0" fill="none" stroke="#43376f" stroke-width="2.0" stroke-linecap="round" stroke-linejoin="round"/>
<path d="M776.0,640.0C774.0,640.2 768.0,640.5 764.0,641.0C760.0,641.5 754.0,642.7 752.0,643.0" fill="none" stroke="#43376f" stroke-width="2.0" stroke-linecap="round" stroke-linejoin="round"/>
<path d="M878.0,745.0C877.3,747.2 875.0,753.8 874.0,758.0C873.0,762.2 872.3,768.0 872.0,770.0" fill="none" stroke="#d8cfe0" stroke-width="13.2" stroke-linecap="round" stroke-linejoin="round"/>
<ellipse cx="854.0" cy="781.0" rx="13.6" ry="10.1" transform="rotate(-10 854.0 781.0)" fill="#d8cfe0"/>
<path d="M860.0,779.0C861.7,777.8 868.3,773.2 870.0,772.0" fill="none" stroke="#d8cfe0" stroke-width="10.2" stroke-linecap="round" stroke-linejoin="round"/>
<path d="M874.0,772.0C875.7,773.7 880.0,779.7 884.0,782.0C888.0,784.3 893.3,785.5 898.0,786.0C902.7,786.5 908.0,785.8 912.0,785.0C916.0,784.2 920.3,781.7 922.0,781.0" fill="none" stroke="#d8cfe0" stroke-width="20.2" stroke-linecap="round" stroke-linejoin="round"/>
<path d="M878.0,745.0C877.3,747.2 875.0,753.8 874.0,758.0C873.0,762.2 872.3,768.0 872.0,770.0" fill="none" stroke="#ecc9c8" stroke-width="10.0" stroke-linecap="round" stroke-linejoin="round"/>
<ellipse cx="854.0" cy="781.0" rx="12.0" ry="8.5" transform="rotate(-10 854.0 781.0)" fill="#ecc9c8"/>
<path d="M860.0,779.0C861.7,777.8 868.3,773.2 870.0,772.0" fill="none" stroke="#ecc9c8" stroke-width="7.0" stroke-linecap="round" stroke-linejoin="round"/>
<path d="M874.0,772.0C875.7,773.7 880.0,779.7 884.0,782.0C888.0,784.3 893.3,785.5 898.0,786.0C902.7,786.5 908.0,785.8 912.0,785.0C916.0,784.2 920.3,781.7 922.0,781.0" fill="none" stroke="#ecc9c8" stroke-width="17.0" stroke-linecap="round" stroke-linejoin="round"/>
<path d="M886.0,700.0C886.5,703.2 889.6,712.8 889.0,719.0C888.4,725.2 884.8,732.3 882.5,737.5C880.2,742.7 876.9,745.8 875.0,750.0C873.1,754.2 871.4,758.3 871.0,762.5C870.6,766.7 871.0,771.1 872.5,775.0C874.0,778.9 876.7,783.1 880.0,786.0C883.3,788.9 888.3,791.2 892.5,792.5C896.7,793.8 900.8,794.0 905.0,794.0C909.2,794.0 914.2,794.0 917.5,792.5C920.8,791.0 923.8,786.2 925.0,785.0" fill="none" stroke="#b04143" stroke-width="3.4" stroke-linecap="round" stroke-linejoin="round"/>
<path d="M870.0,767.5C868.5,768.6 864.3,772.6 861.0,774.0C857.7,775.4 852.5,774.8 850.0,776.0C847.5,777.2 846.7,780.2 846.0,781.0" fill="none" stroke="#b04143" stroke-width="1.8" stroke-linecap="round" stroke-linejoin="round"/>
<path d="M875.0,700.0C874.2,703.2 870.8,712.8 870.0,719.0C869.2,725.2 869.2,732.3 870.0,737.5C870.8,742.7 872.9,746.1 875.0,750.0C877.1,753.9 879.6,757.7 882.5,761.0C885.4,764.3 888.8,767.8 892.5,770.0C896.2,772.2 901.2,773.6 905.0,774.0C908.8,774.4 912.3,772.3 915.0,772.5C917.7,772.7 919.3,773.6 921.0,775.0C922.7,776.4 924.3,780.0 925.0,781.0" fill="none" stroke="#43376f" stroke-width="2.6" stroke-linecap="round" stroke-linejoin="round"/>
<path d="M867.5,770.0C866.4,771.7 863.5,777.3 861.0,780.0C858.5,782.7 854.8,785.3 852.5,786.0C850.2,786.7 848.3,784.3 847.5,784.0" fill="none" stroke="#43376f" stroke-width="1.8" stroke-linecap="round" stroke-linejoin="round"/>
<text x="86.0" y="70.5" class="hd" text-anchor="start">MATERNAL SIDE</text>
<text x="1309.0" y="70.5" class="hd" text-anchor="start">FETAL SIDE</text>
<text x="524.5" y="1064" class="hd" style="font-size:41.75px">MATERNAL-FETAL TRANSFER</text>
<text x="202.3" y="224.0" class="lb" text-anchor="start">Maternal vein</text>
<text x="25.3" y="408.0" class="lb" text-anchor="start">Maternal spiral artery</text>
<text x="248.3" y="580.5" class="lb" text-anchor="start">Basal plate</text>
<text x="324.3" y="820.5" class="lb" text-anchor="start">Myometrium</text>
<text x="973.3" y="233.5" class="lb" text-anchor="start">Chorionic villus</text>
<text x="948.3" y="315.5" class="lb" text-anchor="start">Intervillous space</text>
<text x="1221.3" y="407.5" class="lb" text-anchor="start">Umbilical artery</text>
<text x="1324.3" y="465.0" class="lb" text-anchor="start">Umbilical vein</text>
<text x="1215.5" y="520.7" class="lb" text-anchor="start">Umbilical artery</text>
<text x="975.3" y="588.5" class="lb" text-anchor="start">Umbilical cord</text>
<text x="1151.3" y="797.5" class="lb" text-anchor="start">Chorionic plate</text>
<text x="796.3" y="950.5" class="lb" text-anchor="start">Maternal decidua</text>
<line x1="628.0" y1="213.0" x2="477.0" y2="213.0" stroke="#4a7ebb" stroke-width="2.6"/>
<polygon points="458.0,213.0 479.0,202.5 479.0,223.5" fill="#4a7ebb"/>
<line x1="588.0" y1="398.0" x2="441.0" y2="398.0" stroke="#4a7ebb" stroke-width="2.6"/>
<polygon points="422.0,398.0 443.0,387.5 443.0,408.5" fill="#4a7ebb"/>
<line x1="624.0" y1="569.0" x2="478.0" y2="569.0" stroke="#4a7ebb" stroke-width="2.6"/>
<polygon points="459.0,569.0 480.0,558.5 480.0,579.5" fill="#4a7ebb"/>
<line x1="724.0" y1="811.0" x2="577.0" y2="811.0" stroke="#4a7ebb" stroke-width="2.6"/>
<polygon points="558.0,811.0 579.0,800.5 579.0,821.5" fill="#4a7ebb"/>
<line x1="782.0" y1="220.0" x2="947.0" y2="220.0" stroke="#4a7ebb" stroke-width="2.6"/>
<polygon points="966.0,220.0 945.0,230.5 945.0,209.5" fill="#4a7ebb"/>
<line x1="757.0" y1="299.0" x2="922.0" y2="299.0" stroke="#4a7ebb" stroke-width="2.6"/>
<polygon points="941.0,299.0 920.0,309.5 920.0,288.5" fill="#4a7ebb"/>
<line x1="1132.0" y1="425.0" x2="1198.5" y2="397.3" stroke="#4a7ebb" stroke-width="2.6"/>
<polygon points="1216.0,390.0 1200.7,407.8 1192.6,388.4" fill="#4a7ebb"/>
<line x1="1134.0" y1="449.0" x2="1299.0" y2="449.0" stroke="#4a7ebb" stroke-width="2.6"/>
<polygon points="1318.0,449.0 1297.0,459.5 1297.0,438.5" fill="#4a7ebb"/>
<line x1="1127.0" y1="464.0" x2="1195.7" y2="495.2" stroke="#4a7ebb" stroke-width="2.6"/>
<polygon points="1213.0,503.0 1189.5,503.9 1198.2,484.8" fill="#4a7ebb"/>
<line x1="1057.5" y1="477.0" x2="1057.5" y2="533.5" stroke="#4a7ebb" stroke-width="2.6"/>
<polygon points="1057.5,552.5 1047.0,531.5 1068.0,531.5" fill="#4a7ebb"/>
<line x1="960.0" y1="779.5" x2="1126.0" y2="779.5" stroke="#4a7ebb" stroke-width="2.6"/>
<polygon points="1145.0,779.5 1124.0,790.0 1124.0,769.0" fill="#4a7ebb"/>
<line x1="959.5" y1="831.0" x2="959.5" y2="898.0" stroke="#4a7ebb" stroke-width="2.6"/>
<polygon points="959.5,917.0 949.0,896.0 970.0,896.0" fill="#4a7ebb"/>
<g filter="url(#sh)" opacity="0.5"><line x1="421" y1="1091.5" x2="1222" y2="1091.5" stroke="#555" stroke-width="6.5"/><polygon points="1242,1091.5 1219,1080.5 1219,1102.5" fill="#555"/></g>
<line x1="420.5" y1="1088" x2="1222" y2="1088" stroke="#000" stroke-width="6.5"/><polygon points="1241,1088 1219,1077 1219,1099" fill="#000"/>
</svg>
</body></html>
